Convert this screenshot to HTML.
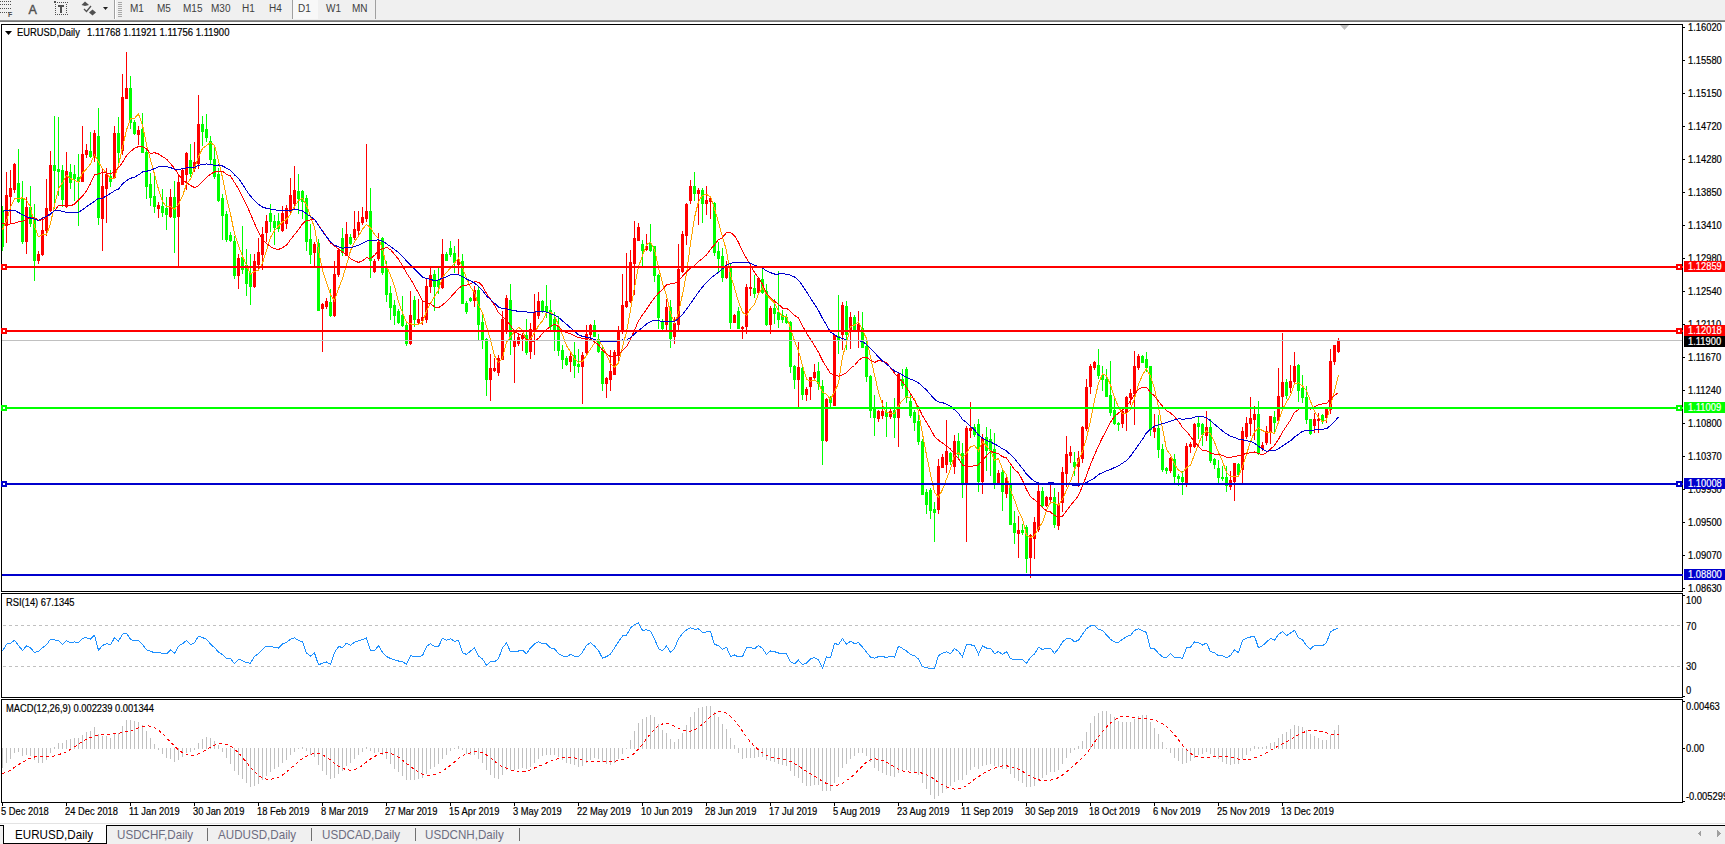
<!DOCTYPE html>
<html><head><meta charset="utf-8"><style>
html,body{margin:0;padding:0;width:1725px;height:844px;overflow:hidden;background:#fff;font-family:"Liberation Sans",sans-serif;}
#tb{position:absolute;left:0;top:0;width:1725px;height:20px;background:#f0f0f0;}
#tbl{position:absolute;left:0;top:20px;width:1725px;height:2px;background:linear-gradient(#a0a0a0,#686868);}
.tf{position:absolute;top:3px;font-size:10px;color:#404040;}
#tabs{position:absolute;left:0;top:823px;width:1725px;height:21px;background:#f0f0f0;}
svg{position:absolute;left:0;top:0;}
</style></head><body>
<div id="tb"></div><div id="tbl"></div><div style="position:absolute;left:292px;top:0;width:25px;height:19px;background:#f8f8f8;border-left:1px solid #a0a0a0"></div><div class="tf" style="left:130px">M1</div><div class="tf" style="left:157px">M5</div><div class="tf" style="left:183px">M15</div><div class="tf" style="left:211px">M30</div><div class="tf" style="left:242px">H1</div><div class="tf" style="left:269px">H4</div><div class="tf" style="left:298px">D1</div><div class="tf" style="left:326px">W1</div><div class="tf" style="left:352px">MN</div><div style="position:absolute;left:114px;top:0;width:1px;height:19px;background:#a0a0a0"></div><div style="position:absolute;left:375px;top:0;width:1px;height:19px;background:#a0a0a0"></div><svg style="position:absolute;left:0;top:0" width="400" height="20" shape-rendering="crispEdges"><rect x="0" y="1" width="1" height="1" fill="#505050"/><rect x="2" y="1" width="1" height="1" fill="#505050"/><rect x="4" y="1" width="1" height="1" fill="#505050"/><rect x="6" y="1" width="1" height="1" fill="#505050"/><rect x="8" y="1" width="1" height="1" fill="#505050"/><rect x="10" y="1" width="1" height="1" fill="#505050"/><rect x="0" y="4" width="1" height="1" fill="#505050"/><rect x="2" y="4" width="1" height="1" fill="#505050"/><rect x="4" y="4" width="1" height="1" fill="#505050"/><rect x="6" y="4" width="1" height="1" fill="#505050"/><rect x="8" y="4" width="1" height="1" fill="#505050"/><rect x="10" y="4" width="1" height="1" fill="#505050"/><rect x="0" y="8" width="1" height="1" fill="#505050"/><rect x="2" y="8" width="1" height="1" fill="#505050"/><rect x="4" y="8" width="1" height="1" fill="#505050"/><rect x="6" y="8" width="1" height="1" fill="#505050"/><rect x="8" y="8" width="1" height="1" fill="#505050"/><rect x="10" y="8" width="1" height="1" fill="#505050"/><rect x="0" y="12" width="1" height="1" fill="#505050"/><rect x="2" y="12" width="1" height="1" fill="#505050"/><rect x="4" y="12" width="1" height="1" fill="#505050"/><rect x="6" y="12" width="1" height="1" fill="#505050"/><rect x="8" y="12" width="1" height="1" fill="#505050"/><rect x="10" y="12" width="1" height="1" fill="#505050"/></svg><svg style="position:absolute;left:0;top:0" width="400" height="20"><text x="8" y="17" font-size="7" font-weight="bold" fill="#505050">F</text><text x="28.5" y="13.5" font-size="12.5" fill="#505050" stroke="#505050" stroke-width="0.4">A</text><g shape-rendering="crispEdges"><rect x="55" y="2" width="1" height="1" fill="#505050"/><rect x="55" y="14" width="1" height="1" fill="#505050"/><rect x="57" y="2" width="1" height="1" fill="#505050"/><rect x="57" y="14" width="1" height="1" fill="#505050"/><rect x="59" y="2" width="1" height="1" fill="#505050"/><rect x="59" y="14" width="1" height="1" fill="#505050"/><rect x="61" y="2" width="1" height="1" fill="#505050"/><rect x="61" y="14" width="1" height="1" fill="#505050"/><rect x="63" y="2" width="1" height="1" fill="#505050"/><rect x="63" y="14" width="1" height="1" fill="#505050"/><rect x="65" y="2" width="1" height="1" fill="#505050"/><rect x="65" y="14" width="1" height="1" fill="#505050"/><rect x="67" y="2" width="1" height="1" fill="#505050"/><rect x="67" y="14" width="1" height="1" fill="#505050"/><rect x="55" y="4" width="1" height="1" fill="#505050"/><rect x="66" y="4" width="1" height="1" fill="#505050"/><rect x="55" y="6" width="1" height="1" fill="#505050"/><rect x="66" y="6" width="1" height="1" fill="#505050"/><rect x="55" y="8" width="1" height="1" fill="#505050"/><rect x="66" y="8" width="1" height="1" fill="#505050"/><rect x="55" y="10" width="1" height="1" fill="#505050"/><rect x="66" y="10" width="1" height="1" fill="#505050"/><rect x="55" y="12" width="1" height="1" fill="#505050"/><rect x="66" y="12" width="1" height="1" fill="#505050"/><rect x="54" y="1" width="2" height="2" fill="#505050"/></g><path d="M58,5 H64 V7 H62 V13 H60 V7 H58 Z" fill="#505050"/><path d="M85,1.5 L89,5 L85,6 L81.5,5 Z" fill="#505050"/><path d="M84,9 L86.5,11.5 L91,6" fill="none" stroke="#505050" stroke-width="1.3"/><path d="M92.5,9.5 L96,12.5 L92.5,15.5 L89,12.5 Z" fill="#505050"/><path d="M103,7 L108,7 L105.5,10 Z" fill="#202020"/></svg><svg style="position:absolute;left:0;top:0" width="400" height="20" shape-rendering="crispEdges"><rect x="118" y="2" width="4" height="1" fill="#a8a8a8"/><rect x="118" y="4" width="4" height="1" fill="#a8a8a8"/><rect x="118" y="6" width="4" height="1" fill="#a8a8a8"/><rect x="118" y="8" width="4" height="1" fill="#a8a8a8"/><rect x="118" y="10" width="4" height="1" fill="#a8a8a8"/><rect x="118" y="12" width="4" height="1" fill="#a8a8a8"/><rect x="118" y="14" width="4" height="1" fill="#a8a8a8"/><rect x="118" y="16" width="4" height="1" fill="#a8a8a8"/><rect x="115" y="0" width="1" height="19" fill="#ffffff"/></svg><div id="tabs"></div><rect x="0" y="22" width="1725" height="801" fill="#fff"/><svg x="0" y="0" width="1725" height="844"><defs><clipPath id="cm"><rect x="2" y="25" width="1680" height="566"/></clipPath><clipPath id="cr"><rect x="2" y="594" width="1680" height="103"/></clipPath><clipPath id="cd"><rect x="2" y="700" width="1680" height="102"/></clipPath></defs><g clip-path="url(#cm)"><g shape-rendering="crispEdges"><rect x="2" y="206" width="1" height="45" fill="#00ff00"/><rect x="1" y="210" width="3" height="37" fill="#00ff00"/><rect x="6" y="172" width="1" height="71" fill="#ff0000"/><rect x="5" y="195" width="3" height="31" fill="#ff0000"/><rect x="10" y="170" width="1" height="53" fill="#ff0000"/><rect x="9" y="188" width="3" height="9" fill="#ff0000"/><rect x="14" y="163" width="1" height="30" fill="#ff0000"/><rect x="13" y="164" width="3" height="26" fill="#ff0000"/><rect x="18" y="149" width="1" height="54" fill="#00ff00"/><rect x="17" y="183" width="3" height="19" fill="#00ff00"/><rect x="22" y="181" width="1" height="63" fill="#00ff00"/><rect x="21" y="199" width="3" height="43" fill="#00ff00"/><rect x="26" y="197" width="1" height="57" fill="#ff0000"/><rect x="25" y="207" width="3" height="35" fill="#ff0000"/><rect x="30" y="186" width="1" height="41" fill="#00ff00"/><rect x="29" y="207" width="3" height="17" fill="#00ff00"/><rect x="34" y="204" width="1" height="77" fill="#00ff00"/><rect x="33" y="220" width="3" height="41" fill="#00ff00"/><rect x="38" y="251" width="1" height="13" fill="#ff0000"/><rect x="37" y="254" width="3" height="7" fill="#ff0000"/><rect x="42" y="217" width="1" height="39" fill="#ff0000"/><rect x="41" y="230" width="3" height="25" fill="#ff0000"/><rect x="46" y="179" width="1" height="57" fill="#ff0000"/><rect x="45" y="208" width="3" height="23" fill="#ff0000"/><rect x="50" y="151" width="1" height="61" fill="#ff0000"/><rect x="49" y="165" width="3" height="46" fill="#ff0000"/><rect x="54" y="116" width="1" height="93" fill="#00ff00"/><rect x="53" y="165" width="3" height="6" fill="#00ff00"/><rect x="58" y="117" width="1" height="79" fill="#00ff00"/><rect x="57" y="169" width="3" height="3" fill="#00ff00"/><rect x="62" y="165" width="1" height="42" fill="#00ff00"/><rect x="61" y="170" width="3" height="30" fill="#00ff00"/><rect x="66" y="152" width="1" height="56" fill="#ff0000"/><rect x="65" y="171" width="3" height="36" fill="#ff0000"/><rect x="70" y="164" width="1" height="25" fill="#00ff00"/><rect x="69" y="172" width="3" height="11" fill="#00ff00"/><rect x="74" y="165" width="1" height="36" fill="#00ff00"/><rect x="73" y="174" width="3" height="5" fill="#00ff00"/><rect x="78" y="154" width="1" height="72" fill="#00ff00"/><rect x="77" y="177" width="3" height="5" fill="#00ff00"/><rect x="82" y="126" width="1" height="56" fill="#ff0000"/><rect x="81" y="154" width="3" height="28" fill="#ff0000"/><rect x="86" y="144" width="1" height="14" fill="#ff0000"/><rect x="85" y="150" width="3" height="5" fill="#ff0000"/><rect x="90" y="132" width="1" height="26" fill="#00ff00"/><rect x="89" y="151" width="3" height="6" fill="#00ff00"/><rect x="94" y="130" width="1" height="32" fill="#ff0000"/><rect x="93" y="133" width="3" height="25" fill="#ff0000"/><rect x="98" y="108" width="1" height="117" fill="#00ff00"/><rect x="97" y="136" width="3" height="82" fill="#00ff00"/><rect x="102" y="168" width="1" height="83" fill="#ff0000"/><rect x="101" y="186" width="3" height="33" fill="#ff0000"/><rect x="106" y="168" width="1" height="55" fill="#ff0000"/><rect x="105" y="174" width="3" height="15" fill="#ff0000"/><rect x="110" y="170" width="1" height="17" fill="#00ff00"/><rect x="109" y="176" width="3" height="6" fill="#00ff00"/><rect x="114" y="126" width="1" height="53" fill="#ff0000"/><rect x="113" y="133" width="3" height="45" fill="#ff0000"/><rect x="118" y="117" width="1" height="49" fill="#00ff00"/><rect x="117" y="133" width="3" height="20" fill="#00ff00"/><rect x="122" y="74" width="1" height="81" fill="#ff0000"/><rect x="121" y="97" width="3" height="54" fill="#ff0000"/><rect x="126" y="52" width="1" height="47" fill="#ff0000"/><rect x="125" y="88" width="3" height="11" fill="#ff0000"/><rect x="130" y="76" width="1" height="53" fill="#00ff00"/><rect x="129" y="88" width="3" height="35" fill="#00ff00"/><rect x="134" y="120" width="1" height="15" fill="#00ff00"/><rect x="133" y="122" width="3" height="12" fill="#00ff00"/><rect x="138" y="126" width="1" height="19" fill="#ff0000"/><rect x="137" y="130" width="3" height="5" fill="#ff0000"/><rect x="142" y="113" width="1" height="40" fill="#00ff00"/><rect x="141" y="129" width="3" height="24" fill="#00ff00"/><rect x="146" y="149" width="1" height="50" fill="#00ff00"/><rect x="145" y="152" width="3" height="35" fill="#00ff00"/><rect x="150" y="173" width="1" height="33" fill="#00ff00"/><rect x="149" y="184" width="3" height="14" fill="#00ff00"/><rect x="154" y="176" width="1" height="37" fill="#00ff00"/><rect x="153" y="196" width="3" height="11" fill="#00ff00"/><rect x="158" y="202" width="1" height="16" fill="#ff0000"/><rect x="157" y="205" width="3" height="4" fill="#ff0000"/><rect x="162" y="189" width="1" height="28" fill="#00ff00"/><rect x="161" y="206" width="3" height="7" fill="#00ff00"/><rect x="166" y="197" width="1" height="33" fill="#00ff00"/><rect x="165" y="208" width="3" height="7" fill="#00ff00"/><rect x="170" y="189" width="1" height="29" fill="#ff0000"/><rect x="169" y="197" width="3" height="20" fill="#ff0000"/><rect x="174" y="181" width="1" height="72" fill="#00ff00"/><rect x="173" y="197" width="3" height="21" fill="#00ff00"/><rect x="178" y="174" width="1" height="93" fill="#ff0000"/><rect x="177" y="182" width="3" height="35" fill="#ff0000"/><rect x="182" y="169" width="1" height="16" fill="#ff0000"/><rect x="181" y="170" width="3" height="15" fill="#ff0000"/><rect x="186" y="152" width="1" height="38" fill="#ff0000"/><rect x="185" y="153" width="3" height="22" fill="#ff0000"/><rect x="190" y="144" width="1" height="33" fill="#00ff00"/><rect x="189" y="160" width="3" height="14" fill="#00ff00"/><rect x="194" y="142" width="1" height="30" fill="#ff0000"/><rect x="193" y="162" width="3" height="7" fill="#ff0000"/><rect x="198" y="95" width="1" height="74" fill="#ff0000"/><rect x="197" y="124" width="3" height="40" fill="#ff0000"/><rect x="202" y="116" width="1" height="30" fill="#00ff00"/><rect x="201" y="124" width="3" height="8" fill="#00ff00"/><rect x="206" y="114" width="1" height="28" fill="#00ff00"/><rect x="205" y="129" width="3" height="9" fill="#00ff00"/><rect x="210" y="136" width="1" height="28" fill="#00ff00"/><rect x="209" y="141" width="3" height="19" fill="#00ff00"/><rect x="214" y="148" width="1" height="31" fill="#00ff00"/><rect x="213" y="159" width="3" height="18" fill="#00ff00"/><rect x="218" y="168" width="1" height="34" fill="#00ff00"/><rect x="217" y="174" width="3" height="27" fill="#00ff00"/><rect x="222" y="194" width="1" height="46" fill="#00ff00"/><rect x="221" y="198" width="3" height="18" fill="#00ff00"/><rect x="226" y="211" width="1" height="31" fill="#00ff00"/><rect x="225" y="214" width="3" height="26" fill="#00ff00"/><rect x="230" y="232" width="1" height="10" fill="#00ff00"/><rect x="229" y="235" width="3" height="6" fill="#00ff00"/><rect x="234" y="236" width="1" height="43" fill="#00ff00"/><rect x="233" y="241" width="3" height="35" fill="#00ff00"/><rect x="238" y="254" width="1" height="35" fill="#ff0000"/><rect x="237" y="258" width="3" height="18" fill="#ff0000"/><rect x="242" y="226" width="1" height="48" fill="#00ff00"/><rect x="241" y="257" width="3" height="13" fill="#00ff00"/><rect x="246" y="249" width="1" height="47" fill="#00ff00"/><rect x="245" y="265" width="3" height="19" fill="#00ff00"/><rect x="250" y="254" width="1" height="51" fill="#00ff00"/><rect x="249" y="273" width="3" height="14" fill="#00ff00"/><rect x="254" y="254" width="1" height="34" fill="#ff0000"/><rect x="253" y="261" width="3" height="26" fill="#ff0000"/><rect x="258" y="238" width="1" height="33" fill="#ff0000"/><rect x="257" y="252" width="3" height="13" fill="#ff0000"/><rect x="262" y="227" width="1" height="43" fill="#ff0000"/><rect x="261" y="234" width="3" height="21" fill="#ff0000"/><rect x="266" y="215" width="1" height="27" fill="#ff0000"/><rect x="265" y="221" width="3" height="12" fill="#ff0000"/><rect x="270" y="204" width="1" height="28" fill="#00ff00"/><rect x="269" y="213" width="3" height="9" fill="#00ff00"/><rect x="274" y="215" width="1" height="30" fill="#00ff00"/><rect x="273" y="221" width="3" height="7" fill="#00ff00"/><rect x="278" y="213" width="1" height="19" fill="#00ff00"/><rect x="277" y="221" width="3" height="8" fill="#00ff00"/><rect x="282" y="206" width="1" height="26" fill="#ff0000"/><rect x="281" y="213" width="3" height="18" fill="#ff0000"/><rect x="286" y="205" width="1" height="24" fill="#ff0000"/><rect x="285" y="208" width="3" height="16" fill="#ff0000"/><rect x="290" y="178" width="1" height="36" fill="#ff0000"/><rect x="289" y="195" width="3" height="17" fill="#ff0000"/><rect x="294" y="166" width="1" height="44" fill="#ff0000"/><rect x="293" y="190" width="3" height="14" fill="#ff0000"/><rect x="298" y="174" width="1" height="40" fill="#00ff00"/><rect x="297" y="191" width="3" height="8" fill="#00ff00"/><rect x="302" y="190" width="1" height="29" fill="#00ff00"/><rect x="301" y="191" width="3" height="11" fill="#00ff00"/><rect x="306" y="195" width="1" height="56" fill="#00ff00"/><rect x="305" y="198" width="3" height="44" fill="#00ff00"/><rect x="310" y="224" width="1" height="40" fill="#00ff00"/><rect x="309" y="239" width="3" height="16" fill="#00ff00"/><rect x="314" y="242" width="1" height="24" fill="#ff0000"/><rect x="313" y="244" width="3" height="9" fill="#ff0000"/><rect x="318" y="239" width="1" height="72" fill="#00ff00"/><rect x="317" y="243" width="3" height="68" fill="#00ff00"/><rect x="322" y="303" width="1" height="49" fill="#ff0000"/><rect x="321" y="304" width="3" height="5" fill="#ff0000"/><rect x="326" y="298" width="1" height="11" fill="#ff0000"/><rect x="325" y="301" width="3" height="6" fill="#ff0000"/><rect x="330" y="289" width="1" height="28" fill="#00ff00"/><rect x="329" y="302" width="3" height="14" fill="#00ff00"/><rect x="334" y="261" width="1" height="56" fill="#ff0000"/><rect x="333" y="274" width="3" height="42" fill="#ff0000"/><rect x="338" y="248" width="1" height="29" fill="#ff0000"/><rect x="337" y="250" width="3" height="25" fill="#ff0000"/><rect x="342" y="228" width="1" height="28" fill="#00ff00"/><rect x="341" y="238" width="3" height="15" fill="#00ff00"/><rect x="346" y="222" width="1" height="34" fill="#ff0000"/><rect x="345" y="234" width="3" height="22" fill="#ff0000"/><rect x="350" y="234" width="1" height="11" fill="#00ff00"/><rect x="349" y="237" width="3" height="7" fill="#00ff00"/><rect x="354" y="211" width="1" height="29" fill="#ff0000"/><rect x="353" y="229" width="3" height="9" fill="#ff0000"/><rect x="358" y="211" width="1" height="24" fill="#ff0000"/><rect x="357" y="222" width="3" height="9" fill="#ff0000"/><rect x="362" y="207" width="1" height="18" fill="#ff0000"/><rect x="361" y="217" width="3" height="6" fill="#ff0000"/><rect x="366" y="144" width="1" height="78" fill="#ff0000"/><rect x="365" y="211" width="3" height="8" fill="#ff0000"/><rect x="370" y="188" width="1" height="90" fill="#00ff00"/><rect x="369" y="211" width="3" height="50" fill="#00ff00"/><rect x="374" y="259" width="1" height="14" fill="#ff0000"/><rect x="373" y="261" width="3" height="11" fill="#ff0000"/><rect x="378" y="233" width="1" height="28" fill="#ff0000"/><rect x="377" y="242" width="3" height="17" fill="#ff0000"/><rect x="382" y="237" width="1" height="38" fill="#00ff00"/><rect x="381" y="238" width="3" height="35" fill="#00ff00"/><rect x="386" y="261" width="1" height="41" fill="#00ff00"/><rect x="385" y="268" width="3" height="27" fill="#00ff00"/><rect x="390" y="286" width="1" height="34" fill="#00ff00"/><rect x="389" y="293" width="3" height="15" fill="#00ff00"/><rect x="394" y="300" width="1" height="25" fill="#00ff00"/><rect x="393" y="305" width="3" height="11" fill="#00ff00"/><rect x="398" y="309" width="1" height="15" fill="#00ff00"/><rect x="397" y="311" width="3" height="12" fill="#00ff00"/><rect x="402" y="296" width="1" height="31" fill="#00ff00"/><rect x="401" y="315" width="3" height="11" fill="#00ff00"/><rect x="406" y="322" width="1" height="24" fill="#00ff00"/><rect x="405" y="325" width="3" height="19" fill="#00ff00"/><rect x="410" y="291" width="1" height="54" fill="#ff0000"/><rect x="409" y="315" width="3" height="29" fill="#ff0000"/><rect x="414" y="296" width="1" height="31" fill="#00ff00"/><rect x="413" y="300" width="3" height="20" fill="#00ff00"/><rect x="418" y="299" width="1" height="26" fill="#ff0000"/><rect x="417" y="319" width="3" height="4" fill="#ff0000"/><rect x="422" y="300" width="1" height="25" fill="#ff0000"/><rect x="421" y="317" width="3" height="4" fill="#ff0000"/><rect x="426" y="278" width="1" height="45" fill="#ff0000"/><rect x="425" y="286" width="3" height="34" fill="#ff0000"/><rect x="430" y="268" width="1" height="25" fill="#ff0000"/><rect x="429" y="275" width="3" height="12" fill="#ff0000"/><rect x="434" y="270" width="1" height="41" fill="#00ff00"/><rect x="433" y="274" width="3" height="13" fill="#00ff00"/><rect x="438" y="268" width="1" height="26" fill="#00ff00"/><rect x="437" y="280" width="3" height="7" fill="#00ff00"/><rect x="442" y="239" width="1" height="50" fill="#ff0000"/><rect x="441" y="254" width="3" height="34" fill="#ff0000"/><rect x="446" y="252" width="1" height="9" fill="#00ff00"/><rect x="445" y="254" width="3" height="7" fill="#00ff00"/><rect x="450" y="241" width="1" height="16" fill="#00ff00"/><rect x="449" y="248" width="3" height="7" fill="#00ff00"/><rect x="454" y="246" width="1" height="27" fill="#00ff00"/><rect x="453" y="253" width="3" height="10" fill="#00ff00"/><rect x="458" y="239" width="1" height="36" fill="#ff0000"/><rect x="457" y="260" width="3" height="5" fill="#ff0000"/><rect x="462" y="254" width="1" height="50" fill="#00ff00"/><rect x="461" y="261" width="3" height="43" fill="#00ff00"/><rect x="466" y="301" width="1" height="13" fill="#00ff00"/><rect x="465" y="303" width="3" height="9" fill="#00ff00"/><rect x="470" y="297" width="1" height="5" fill="#00ff00"/><rect x="469" y="298" width="3" height="3" fill="#00ff00"/><rect x="474" y="286" width="1" height="21" fill="#ff0000"/><rect x="473" y="290" width="3" height="11" fill="#ff0000"/><rect x="478" y="287" width="1" height="53" fill="#00ff00"/><rect x="477" y="290" width="3" height="35" fill="#00ff00"/><rect x="482" y="314" width="1" height="35" fill="#00ff00"/><rect x="481" y="322" width="3" height="18" fill="#00ff00"/><rect x="486" y="338" width="1" height="58" fill="#00ff00"/><rect x="485" y="339" width="3" height="41" fill="#00ff00"/><rect x="490" y="354" width="1" height="47" fill="#ff0000"/><rect x="489" y="368" width="3" height="12" fill="#ff0000"/><rect x="494" y="358" width="1" height="14" fill="#ff0000"/><rect x="493" y="368" width="3" height="3" fill="#ff0000"/><rect x="498" y="355" width="1" height="21" fill="#ff0000"/><rect x="497" y="358" width="3" height="15" fill="#ff0000"/><rect x="502" y="311" width="1" height="49" fill="#ff0000"/><rect x="501" y="319" width="3" height="41" fill="#ff0000"/><rect x="506" y="295" width="1" height="39" fill="#ff0000"/><rect x="505" y="298" width="3" height="34" fill="#ff0000"/><rect x="510" y="284" width="1" height="71" fill="#00ff00"/><rect x="509" y="300" width="3" height="41" fill="#00ff00"/><rect x="514" y="330" width="1" height="53" fill="#ff0000"/><rect x="513" y="341" width="3" height="6" fill="#ff0000"/><rect x="518" y="333" width="1" height="13" fill="#ff0000"/><rect x="517" y="337" width="3" height="7" fill="#ff0000"/><rect x="522" y="333" width="1" height="18" fill="#ff0000"/><rect x="521" y="335" width="3" height="4" fill="#ff0000"/><rect x="526" y="319" width="1" height="36" fill="#00ff00"/><rect x="525" y="335" width="3" height="18" fill="#00ff00"/><rect x="530" y="323" width="1" height="36" fill="#ff0000"/><rect x="529" y="329" width="3" height="23" fill="#ff0000"/><rect x="534" y="294" width="1" height="61" fill="#ff0000"/><rect x="533" y="312" width="3" height="20" fill="#ff0000"/><rect x="538" y="292" width="1" height="27" fill="#ff0000"/><rect x="537" y="301" width="3" height="15" fill="#ff0000"/><rect x="542" y="300" width="1" height="13" fill="#00ff00"/><rect x="541" y="301" width="3" height="10" fill="#00ff00"/><rect x="546" y="285" width="1" height="33" fill="#00ff00"/><rect x="545" y="306" width="3" height="6" fill="#00ff00"/><rect x="550" y="300" width="1" height="30" fill="#00ff00"/><rect x="549" y="310" width="3" height="17" fill="#00ff00"/><rect x="554" y="312" width="1" height="39" fill="#00ff00"/><rect x="553" y="319" width="3" height="11" fill="#00ff00"/><rect x="558" y="316" width="1" height="40" fill="#00ff00"/><rect x="557" y="326" width="3" height="25" fill="#00ff00"/><rect x="562" y="345" width="1" height="24" fill="#00ff00"/><rect x="561" y="350" width="3" height="10" fill="#00ff00"/><rect x="566" y="356" width="1" height="10" fill="#00ff00"/><rect x="565" y="358" width="3" height="7" fill="#00ff00"/><rect x="570" y="352" width="1" height="20" fill="#ff0000"/><rect x="569" y="356" width="3" height="6" fill="#ff0000"/><rect x="574" y="342" width="1" height="36" fill="#00ff00"/><rect x="573" y="355" width="3" height="11" fill="#00ff00"/><rect x="578" y="349" width="1" height="24" fill="#00ff00"/><rect x="577" y="364" width="3" height="3" fill="#00ff00"/><rect x="582" y="352" width="1" height="52" fill="#ff0000"/><rect x="581" y="355" width="3" height="12" fill="#ff0000"/><rect x="586" y="325" width="1" height="31" fill="#ff0000"/><rect x="585" y="334" width="3" height="19" fill="#ff0000"/><rect x="590" y="324" width="1" height="13" fill="#ff0000"/><rect x="589" y="325" width="3" height="10" fill="#ff0000"/><rect x="594" y="320" width="1" height="17" fill="#00ff00"/><rect x="593" y="325" width="3" height="12" fill="#00ff00"/><rect x="598" y="334" width="1" height="19" fill="#00ff00"/><rect x="597" y="339" width="3" height="13" fill="#00ff00"/><rect x="602" y="347" width="1" height="44" fill="#00ff00"/><rect x="601" y="351" width="3" height="33" fill="#00ff00"/><rect x="606" y="377" width="1" height="21" fill="#ff0000"/><rect x="605" y="378" width="3" height="6" fill="#ff0000"/><rect x="610" y="350" width="1" height="41" fill="#ff0000"/><rect x="609" y="371" width="3" height="9" fill="#ff0000"/><rect x="614" y="350" width="1" height="25" fill="#ff0000"/><rect x="613" y="352" width="3" height="23" fill="#ff0000"/><rect x="618" y="326" width="1" height="37" fill="#ff0000"/><rect x="617" y="330" width="3" height="26" fill="#ff0000"/><rect x="622" y="274" width="1" height="60" fill="#ff0000"/><rect x="621" y="305" width="3" height="27" fill="#ff0000"/><rect x="626" y="253" width="1" height="55" fill="#ff0000"/><rect x="625" y="301" width="3" height="6" fill="#ff0000"/><rect x="630" y="250" width="1" height="53" fill="#ff0000"/><rect x="629" y="262" width="3" height="40" fill="#ff0000"/><rect x="634" y="221" width="1" height="74" fill="#ff0000"/><rect x="633" y="238" width="3" height="26" fill="#ff0000"/><rect x="638" y="223" width="1" height="18" fill="#ff0000"/><rect x="637" y="227" width="3" height="14" fill="#ff0000"/><rect x="642" y="240" width="1" height="26" fill="#00ff00"/><rect x="641" y="244" width="3" height="7" fill="#00ff00"/><rect x="646" y="234" width="1" height="17" fill="#ff0000"/><rect x="645" y="246" width="3" height="4" fill="#ff0000"/><rect x="650" y="224" width="1" height="28" fill="#00ff00"/><rect x="649" y="243" width="3" height="8" fill="#00ff00"/><rect x="654" y="246" width="1" height="36" fill="#00ff00"/><rect x="653" y="246" width="3" height="30" fill="#00ff00"/><rect x="658" y="274" width="1" height="55" fill="#00ff00"/><rect x="657" y="275" width="3" height="43" fill="#00ff00"/><rect x="662" y="319" width="1" height="12" fill="#00ff00"/><rect x="661" y="321" width="3" height="8" fill="#00ff00"/><rect x="666" y="299" width="1" height="32" fill="#ff0000"/><rect x="665" y="307" width="3" height="18" fill="#ff0000"/><rect x="670" y="300" width="1" height="48" fill="#00ff00"/><rect x="669" y="307" width="3" height="32" fill="#00ff00"/><rect x="674" y="317" width="1" height="27" fill="#ff0000"/><rect x="673" y="323" width="3" height="14" fill="#ff0000"/><rect x="678" y="244" width="1" height="87" fill="#ff0000"/><rect x="677" y="269" width="3" height="56" fill="#ff0000"/><rect x="682" y="231" width="1" height="42" fill="#ff0000"/><rect x="681" y="234" width="3" height="38" fill="#ff0000"/><rect x="686" y="203" width="1" height="42" fill="#ff0000"/><rect x="685" y="204" width="3" height="32" fill="#ff0000"/><rect x="690" y="180" width="1" height="24" fill="#ff0000"/><rect x="689" y="186" width="3" height="15" fill="#ff0000"/><rect x="694" y="172" width="1" height="29" fill="#00ff00"/><rect x="693" y="186" width="3" height="8" fill="#00ff00"/><rect x="698" y="188" width="1" height="37" fill="#ff0000"/><rect x="697" y="190" width="3" height="4" fill="#ff0000"/><rect x="702" y="188" width="1" height="35" fill="#00ff00"/><rect x="701" y="190" width="3" height="14" fill="#00ff00"/><rect x="706" y="186" width="1" height="29" fill="#ff0000"/><rect x="705" y="200" width="3" height="4" fill="#ff0000"/><rect x="710" y="198" width="1" height="21" fill="#ff0000"/><rect x="709" y="198" width="3" height="4" fill="#ff0000"/><rect x="714" y="202" width="1" height="54" fill="#00ff00"/><rect x="713" y="203" width="3" height="50" fill="#00ff00"/><rect x="718" y="242" width="1" height="31" fill="#00ff00"/><rect x="717" y="251" width="3" height="8" fill="#00ff00"/><rect x="722" y="248" width="1" height="34" fill="#00ff00"/><rect x="721" y="256" width="3" height="22" fill="#00ff00"/><rect x="726" y="261" width="1" height="18" fill="#ff0000"/><rect x="725" y="267" width="3" height="11" fill="#ff0000"/><rect x="730" y="263" width="1" height="66" fill="#00ff00"/><rect x="729" y="267" width="3" height="56" fill="#00ff00"/><rect x="734" y="314" width="1" height="9" fill="#ff0000"/><rect x="733" y="315" width="3" height="8" fill="#ff0000"/><rect x="738" y="307" width="1" height="22" fill="#00ff00"/><rect x="737" y="311" width="3" height="18" fill="#00ff00"/><rect x="742" y="326" width="1" height="13" fill="#ff0000"/><rect x="741" y="327" width="3" height="2" fill="#ff0000"/><rect x="746" y="284" width="1" height="50" fill="#ff0000"/><rect x="745" y="287" width="3" height="40" fill="#ff0000"/><rect x="750" y="264" width="1" height="32" fill="#ff0000"/><rect x="749" y="287" width="3" height="2" fill="#ff0000"/><rect x="754" y="275" width="1" height="23" fill="#00ff00"/><rect x="753" y="288" width="3" height="6" fill="#00ff00"/><rect x="758" y="277" width="1" height="17" fill="#ff0000"/><rect x="757" y="278" width="3" height="15" fill="#ff0000"/><rect x="762" y="268" width="1" height="26" fill="#00ff00"/><rect x="761" y="279" width="3" height="14" fill="#00ff00"/><rect x="766" y="284" width="1" height="42" fill="#00ff00"/><rect x="765" y="291" width="3" height="34" fill="#00ff00"/><rect x="770" y="306" width="1" height="28" fill="#ff0000"/><rect x="769" y="308" width="3" height="17" fill="#ff0000"/><rect x="774" y="299" width="1" height="25" fill="#00ff00"/><rect x="773" y="308" width="3" height="6" fill="#00ff00"/><rect x="778" y="271" width="1" height="57" fill="#00ff00"/><rect x="777" y="312" width="3" height="8" fill="#00ff00"/><rect x="782" y="310" width="1" height="13" fill="#00ff00"/><rect x="781" y="315" width="3" height="5" fill="#00ff00"/><rect x="786" y="314" width="1" height="10" fill="#00ff00"/><rect x="785" y="317" width="3" height="6" fill="#00ff00"/><rect x="790" y="321" width="1" height="52" fill="#00ff00"/><rect x="789" y="322" width="3" height="45" fill="#00ff00"/><rect x="794" y="365" width="1" height="24" fill="#00ff00"/><rect x="793" y="366" width="3" height="14" fill="#00ff00"/><rect x="798" y="342" width="1" height="66" fill="#ff0000"/><rect x="797" y="367" width="3" height="13" fill="#ff0000"/><rect x="802" y="367" width="1" height="33" fill="#00ff00"/><rect x="801" y="368" width="3" height="27" fill="#00ff00"/><rect x="806" y="387" width="1" height="14" fill="#ff0000"/><rect x="805" y="389" width="3" height="6" fill="#ff0000"/><rect x="810" y="377" width="1" height="23" fill="#ff0000"/><rect x="809" y="377" width="3" height="10" fill="#ff0000"/><rect x="814" y="364" width="1" height="16" fill="#ff0000"/><rect x="813" y="372" width="3" height="6" fill="#ff0000"/><rect x="818" y="362" width="1" height="28" fill="#00ff00"/><rect x="817" y="371" width="3" height="13" fill="#00ff00"/><rect x="822" y="380" width="1" height="85" fill="#00ff00"/><rect x="821" y="386" width="3" height="55" fill="#00ff00"/><rect x="826" y="398" width="1" height="44" fill="#ff0000"/><rect x="825" y="399" width="3" height="42" fill="#ff0000"/><rect x="830" y="396" width="1" height="12" fill="#00ff00"/><rect x="829" y="397" width="3" height="6" fill="#00ff00"/><rect x="834" y="334" width="1" height="72" fill="#ff0000"/><rect x="833" y="335" width="3" height="71" fill="#ff0000"/><rect x="838" y="295" width="1" height="59" fill="#00ff00"/><rect x="837" y="336" width="3" height="5" fill="#00ff00"/><rect x="842" y="302" width="1" height="48" fill="#ff0000"/><rect x="841" y="305" width="3" height="30" fill="#ff0000"/><rect x="846" y="301" width="1" height="49" fill="#00ff00"/><rect x="845" y="306" width="3" height="29" fill="#00ff00"/><rect x="850" y="312" width="1" height="37" fill="#ff0000"/><rect x="849" y="317" width="3" height="14" fill="#ff0000"/><rect x="854" y="315" width="1" height="16" fill="#00ff00"/><rect x="853" y="317" width="3" height="13" fill="#00ff00"/><rect x="858" y="311" width="1" height="37" fill="#ff0000"/><rect x="857" y="324" width="3" height="8" fill="#ff0000"/><rect x="862" y="312" width="1" height="36" fill="#00ff00"/><rect x="861" y="328" width="3" height="20" fill="#00ff00"/><rect x="866" y="340" width="1" height="42" fill="#00ff00"/><rect x="865" y="346" width="3" height="31" fill="#00ff00"/><rect x="870" y="375" width="1" height="43" fill="#00ff00"/><rect x="869" y="376" width="3" height="35" fill="#00ff00"/><rect x="874" y="395" width="1" height="41" fill="#00ff00"/><rect x="873" y="407" width="3" height="11" fill="#00ff00"/><rect x="878" y="410" width="1" height="12" fill="#ff0000"/><rect x="877" y="411" width="3" height="8" fill="#ff0000"/><rect x="882" y="400" width="1" height="19" fill="#ff0000"/><rect x="881" y="411" width="3" height="5" fill="#ff0000"/><rect x="886" y="402" width="1" height="35" fill="#00ff00"/><rect x="885" y="412" width="3" height="5" fill="#00ff00"/><rect x="890" y="407" width="1" height="12" fill="#ff0000"/><rect x="889" y="411" width="3" height="6" fill="#ff0000"/><rect x="894" y="398" width="1" height="40" fill="#00ff00"/><rect x="893" y="410" width="3" height="8" fill="#00ff00"/><rect x="898" y="372" width="1" height="75" fill="#ff0000"/><rect x="897" y="374" width="3" height="44" fill="#ff0000"/><rect x="902" y="369" width="1" height="20" fill="#00ff00"/><rect x="901" y="379" width="3" height="7" fill="#00ff00"/><rect x="906" y="367" width="1" height="36" fill="#00ff00"/><rect x="905" y="369" width="3" height="29" fill="#00ff00"/><rect x="910" y="395" width="1" height="23" fill="#00ff00"/><rect x="909" y="401" width="3" height="15" fill="#00ff00"/><rect x="914" y="410" width="1" height="21" fill="#00ff00"/><rect x="913" y="412" width="3" height="11" fill="#00ff00"/><rect x="918" y="415" width="1" height="30" fill="#00ff00"/><rect x="917" y="421" width="3" height="21" fill="#00ff00"/><rect x="922" y="439" width="1" height="56" fill="#00ff00"/><rect x="921" y="441" width="3" height="54" fill="#00ff00"/><rect x="926" y="489" width="1" height="25" fill="#00ff00"/><rect x="925" y="492" width="3" height="13" fill="#00ff00"/><rect x="930" y="488" width="1" height="31" fill="#00ff00"/><rect x="929" y="490" width="3" height="21" fill="#00ff00"/><rect x="934" y="502" width="1" height="40" fill="#00ff00"/><rect x="933" y="509" width="3" height="4" fill="#00ff00"/><rect x="938" y="459" width="1" height="55" fill="#ff0000"/><rect x="937" y="466" width="3" height="44" fill="#ff0000"/><rect x="942" y="454" width="1" height="14" fill="#ff0000"/><rect x="941" y="457" width="3" height="11" fill="#ff0000"/><rect x="946" y="420" width="1" height="53" fill="#ff0000"/><rect x="945" y="451" width="3" height="14" fill="#ff0000"/><rect x="950" y="452" width="1" height="13" fill="#00ff00"/><rect x="949" y="453" width="3" height="9" fill="#00ff00"/><rect x="954" y="435" width="1" height="39" fill="#ff0000"/><rect x="953" y="441" width="3" height="26" fill="#ff0000"/><rect x="958" y="433" width="1" height="27" fill="#00ff00"/><rect x="957" y="441" width="3" height="14" fill="#00ff00"/><rect x="962" y="443" width="1" height="55" fill="#00ff00"/><rect x="961" y="453" width="3" height="31" fill="#00ff00"/><rect x="966" y="426" width="1" height="116" fill="#ff0000"/><rect x="965" y="428" width="3" height="56" fill="#ff0000"/><rect x="970" y="402" width="1" height="36" fill="#ff0000"/><rect x="969" y="428" width="3" height="3" fill="#ff0000"/><rect x="974" y="424" width="1" height="13" fill="#00ff00"/><rect x="973" y="427" width="3" height="8" fill="#00ff00"/><rect x="978" y="419" width="1" height="73" fill="#00ff00"/><rect x="977" y="424" width="3" height="58" fill="#00ff00"/><rect x="982" y="434" width="1" height="60" fill="#ff0000"/><rect x="981" y="438" width="3" height="44" fill="#ff0000"/><rect x="986" y="427" width="1" height="44" fill="#00ff00"/><rect x="985" y="437" width="3" height="14" fill="#00ff00"/><rect x="990" y="429" width="1" height="47" fill="#00ff00"/><rect x="989" y="439" width="3" height="12" fill="#00ff00"/><rect x="994" y="433" width="1" height="56" fill="#00ff00"/><rect x="993" y="449" width="3" height="35" fill="#00ff00"/><rect x="998" y="470" width="1" height="14" fill="#ff0000"/><rect x="997" y="473" width="3" height="11" fill="#ff0000"/><rect x="1002" y="470" width="1" height="41" fill="#00ff00"/><rect x="1001" y="472" width="3" height="20" fill="#00ff00"/><rect x="1006" y="476" width="1" height="22" fill="#ff0000"/><rect x="1005" y="478" width="3" height="16" fill="#ff0000"/><rect x="1010" y="466" width="1" height="59" fill="#00ff00"/><rect x="1009" y="483" width="3" height="42" fill="#00ff00"/><rect x="1014" y="511" width="1" height="33" fill="#00ff00"/><rect x="1013" y="523" width="3" height="10" fill="#00ff00"/><rect x="1018" y="516" width="1" height="42" fill="#ff0000"/><rect x="1017" y="530" width="3" height="4" fill="#ff0000"/><rect x="1022" y="524" width="1" height="11" fill="#00ff00"/><rect x="1021" y="530" width="3" height="3" fill="#00ff00"/><rect x="1026" y="525" width="1" height="48" fill="#00ff00"/><rect x="1025" y="527" width="3" height="32" fill="#00ff00"/><rect x="1030" y="534" width="1" height="44" fill="#ff0000"/><rect x="1029" y="535" width="3" height="23" fill="#ff0000"/><rect x="1034" y="517" width="1" height="42" fill="#ff0000"/><rect x="1033" y="522" width="3" height="17" fill="#ff0000"/><rect x="1038" y="485" width="1" height="47" fill="#ff0000"/><rect x="1037" y="491" width="3" height="39" fill="#ff0000"/><rect x="1042" y="487" width="1" height="21" fill="#00ff00"/><rect x="1041" y="491" width="3" height="15" fill="#00ff00"/><rect x="1046" y="496" width="1" height="11" fill="#ff0000"/><rect x="1045" y="497" width="3" height="9" fill="#ff0000"/><rect x="1050" y="485" width="1" height="18" fill="#ff0000"/><rect x="1049" y="497" width="3" height="3" fill="#ff0000"/><rect x="1054" y="488" width="1" height="40" fill="#00ff00"/><rect x="1053" y="497" width="3" height="28" fill="#00ff00"/><rect x="1058" y="492" width="1" height="38" fill="#ff0000"/><rect x="1057" y="504" width="3" height="22" fill="#ff0000"/><rect x="1062" y="467" width="1" height="45" fill="#ff0000"/><rect x="1061" y="472" width="3" height="31" fill="#ff0000"/><rect x="1066" y="436" width="1" height="51" fill="#ff0000"/><rect x="1065" y="454" width="3" height="20" fill="#ff0000"/><rect x="1070" y="446" width="1" height="17" fill="#ff0000"/><rect x="1069" y="452" width="3" height="4" fill="#ff0000"/><rect x="1074" y="452" width="1" height="24" fill="#00ff00"/><rect x="1073" y="462" width="3" height="5" fill="#00ff00"/><rect x="1078" y="451" width="1" height="36" fill="#ff0000"/><rect x="1077" y="458" width="3" height="9" fill="#ff0000"/><rect x="1082" y="426" width="1" height="37" fill="#ff0000"/><rect x="1081" y="427" width="3" height="32" fill="#ff0000"/><rect x="1086" y="379" width="1" height="52" fill="#ff0000"/><rect x="1085" y="387" width="3" height="42" fill="#ff0000"/><rect x="1090" y="364" width="1" height="30" fill="#ff0000"/><rect x="1089" y="366" width="3" height="21" fill="#ff0000"/><rect x="1094" y="361" width="1" height="9" fill="#ff0000"/><rect x="1093" y="362" width="3" height="6" fill="#ff0000"/><rect x="1098" y="349" width="1" height="30" fill="#00ff00"/><rect x="1097" y="365" width="3" height="11" fill="#00ff00"/><rect x="1102" y="366" width="1" height="25" fill="#00ff00"/><rect x="1101" y="375" width="3" height="5" fill="#00ff00"/><rect x="1106" y="369" width="1" height="28" fill="#00ff00"/><rect x="1105" y="379" width="3" height="18" fill="#00ff00"/><rect x="1110" y="361" width="1" height="55" fill="#00ff00"/><rect x="1109" y="395" width="3" height="18" fill="#00ff00"/><rect x="1114" y="398" width="1" height="27" fill="#00ff00"/><rect x="1113" y="410" width="3" height="14" fill="#00ff00"/><rect x="1118" y="422" width="1" height="9" fill="#00ff00"/><rect x="1117" y="423" width="3" height="2" fill="#00ff00"/><rect x="1122" y="410" width="1" height="18" fill="#ff0000"/><rect x="1121" y="411" width="3" height="13" fill="#ff0000"/><rect x="1126" y="396" width="1" height="35" fill="#ff0000"/><rect x="1125" y="397" width="3" height="16" fill="#ff0000"/><rect x="1130" y="389" width="1" height="16" fill="#ff0000"/><rect x="1129" y="393" width="3" height="5" fill="#ff0000"/><rect x="1134" y="351" width="1" height="74" fill="#ff0000"/><rect x="1133" y="366" width="3" height="28" fill="#ff0000"/><rect x="1138" y="354" width="1" height="16" fill="#ff0000"/><rect x="1137" y="356" width="3" height="12" fill="#ff0000"/><rect x="1142" y="355" width="1" height="8" fill="#00ff00"/><rect x="1141" y="356" width="3" height="7" fill="#00ff00"/><rect x="1146" y="352" width="1" height="20" fill="#00ff00"/><rect x="1145" y="359" width="3" height="9" fill="#00ff00"/><rect x="1150" y="366" width="1" height="70" fill="#00ff00"/><rect x="1149" y="366" width="3" height="64" fill="#00ff00"/><rect x="1154" y="414" width="1" height="24" fill="#ff0000"/><rect x="1153" y="428" width="3" height="4" fill="#ff0000"/><rect x="1158" y="415" width="1" height="43" fill="#00ff00"/><rect x="1157" y="428" width="3" height="22" fill="#00ff00"/><rect x="1162" y="444" width="1" height="28" fill="#00ff00"/><rect x="1161" y="449" width="3" height="21" fill="#00ff00"/><rect x="1166" y="467" width="1" height="7" fill="#00ff00"/><rect x="1165" y="468" width="3" height="3" fill="#00ff00"/><rect x="1170" y="457" width="1" height="16" fill="#ff0000"/><rect x="1169" y="458" width="3" height="13" fill="#ff0000"/><rect x="1174" y="454" width="1" height="29" fill="#00ff00"/><rect x="1173" y="459" width="3" height="18" fill="#00ff00"/><rect x="1178" y="474" width="1" height="12" fill="#00ff00"/><rect x="1177" y="476" width="3" height="3" fill="#00ff00"/><rect x="1182" y="471" width="1" height="24" fill="#00ff00"/><rect x="1181" y="477" width="3" height="5" fill="#00ff00"/><rect x="1186" y="443" width="1" height="44" fill="#ff0000"/><rect x="1185" y="446" width="3" height="37" fill="#ff0000"/><rect x="1190" y="442" width="1" height="11" fill="#ff0000"/><rect x="1189" y="444" width="3" height="3" fill="#ff0000"/><rect x="1194" y="423" width="1" height="25" fill="#ff0000"/><rect x="1193" y="424" width="3" height="23" fill="#ff0000"/><rect x="1198" y="417" width="1" height="22" fill="#00ff00"/><rect x="1197" y="423" width="3" height="4" fill="#00ff00"/><rect x="1202" y="423" width="1" height="23" fill="#00ff00"/><rect x="1201" y="424" width="3" height="11" fill="#00ff00"/><rect x="1206" y="411" width="1" height="30" fill="#ff0000"/><rect x="1205" y="427" width="3" height="9" fill="#ff0000"/><rect x="1210" y="419" width="1" height="44" fill="#00ff00"/><rect x="1209" y="427" width="3" height="34" fill="#00ff00"/><rect x="1214" y="458" width="1" height="11" fill="#00ff00"/><rect x="1213" y="459" width="3" height="6" fill="#00ff00"/><rect x="1218" y="460" width="1" height="23" fill="#00ff00"/><rect x="1217" y="468" width="3" height="10" fill="#00ff00"/><rect x="1222" y="466" width="1" height="15" fill="#00ff00"/><rect x="1221" y="477" width="3" height="2" fill="#00ff00"/><rect x="1226" y="466" width="1" height="26" fill="#00ff00"/><rect x="1225" y="477" width="3" height="9" fill="#00ff00"/><rect x="1230" y="471" width="1" height="19" fill="#ff0000"/><rect x="1229" y="480" width="3" height="7" fill="#ff0000"/><rect x="1234" y="463" width="1" height="38" fill="#ff0000"/><rect x="1233" y="463" width="3" height="19" fill="#ff0000"/><rect x="1238" y="463" width="1" height="14" fill="#00ff00"/><rect x="1237" y="464" width="3" height="11" fill="#00ff00"/><rect x="1242" y="427" width="1" height="56" fill="#ff0000"/><rect x="1241" y="431" width="3" height="39" fill="#ff0000"/><rect x="1246" y="417" width="1" height="22" fill="#ff0000"/><rect x="1245" y="423" width="3" height="14" fill="#ff0000"/><rect x="1250" y="397" width="1" height="39" fill="#ff0000"/><rect x="1249" y="418" width="3" height="6" fill="#ff0000"/><rect x="1254" y="406" width="1" height="34" fill="#ff0000"/><rect x="1253" y="414" width="3" height="6" fill="#ff0000"/><rect x="1258" y="401" width="1" height="54" fill="#00ff00"/><rect x="1257" y="414" width="3" height="40" fill="#00ff00"/><rect x="1262" y="442" width="1" height="9" fill="#ff0000"/><rect x="1261" y="445" width="3" height="4" fill="#ff0000"/><rect x="1266" y="426" width="1" height="19" fill="#ff0000"/><rect x="1265" y="431" width="3" height="12" fill="#ff0000"/><rect x="1270" y="416" width="1" height="28" fill="#ff0000"/><rect x="1269" y="416" width="3" height="16" fill="#ff0000"/><rect x="1274" y="411" width="1" height="21" fill="#00ff00"/><rect x="1273" y="417" width="3" height="6" fill="#00ff00"/><rect x="1278" y="368" width="1" height="54" fill="#ff0000"/><rect x="1277" y="396" width="3" height="25" fill="#ff0000"/><rect x="1282" y="333" width="1" height="74" fill="#ff0000"/><rect x="1281" y="382" width="3" height="15" fill="#ff0000"/><rect x="1286" y="379" width="1" height="20" fill="#00ff00"/><rect x="1285" y="382" width="3" height="14" fill="#00ff00"/><rect x="1290" y="365" width="1" height="28" fill="#ff0000"/><rect x="1289" y="381" width="3" height="7" fill="#ff0000"/><rect x="1294" y="352" width="1" height="31" fill="#ff0000"/><rect x="1293" y="366" width="3" height="16" fill="#ff0000"/><rect x="1298" y="364" width="1" height="38" fill="#00ff00"/><rect x="1297" y="365" width="3" height="26" fill="#00ff00"/><rect x="1302" y="375" width="1" height="28" fill="#00ff00"/><rect x="1301" y="388" width="3" height="10" fill="#00ff00"/><rect x="1306" y="386" width="1" height="38" fill="#00ff00"/><rect x="1305" y="397" width="3" height="23" fill="#00ff00"/><rect x="1310" y="419" width="1" height="16" fill="#00ff00"/><rect x="1309" y="419" width="3" height="15" fill="#00ff00"/><rect x="1314" y="413" width="1" height="20" fill="#ff0000"/><rect x="1313" y="419" width="3" height="7" fill="#ff0000"/><rect x="1318" y="413" width="1" height="20" fill="#ff0000"/><rect x="1317" y="419" width="3" height="2" fill="#ff0000"/><rect x="1322" y="414" width="1" height="10" fill="#00ff00"/><rect x="1321" y="415" width="3" height="6" fill="#00ff00"/><rect x="1326" y="408" width="1" height="15" fill="#ff0000"/><rect x="1325" y="409" width="3" height="9" fill="#ff0000"/><rect x="1330" y="349" width="1" height="65" fill="#ff0000"/><rect x="1329" y="361" width="3" height="49" fill="#ff0000"/><rect x="1334" y="345" width="1" height="20" fill="#ff0000"/><rect x="1333" y="345" width="3" height="17" fill="#ff0000"/><rect x="1338" y="338" width="1" height="15" fill="#ff0000"/><rect x="1337" y="341" width="3" height="11" fill="#ff0000"/></g><polyline points="2.5,229.6 6.5,221.1 10.5,206.9 14.5,199.0 18.5,198.9 22.5,197.7 26.5,200.2 30.5,207.2 34.5,226.4 38.5,236.9 42.5,234.7 46.5,234.9 50.5,223.4 54.5,205.4 58.5,188.7 62.5,182.7 66.5,175.2 70.5,178.6 74.5,180.2 78.5,182.2 82.5,173.2 86.5,169.0 90.5,163.8 94.5,154.8 98.5,162.0 102.5,168.5 106.5,173.3 110.5,178.3 114.5,178.3 118.5,165.3 122.5,147.4 126.5,130.1 130.5,118.3 134.5,118.3 138.5,114.1 142.5,125.0 146.5,144.7 150.5,159.7 154.5,174.3 158.5,189.3 162.5,201.3 166.5,206.9 170.5,206.9 174.5,209.0 178.5,204.5 182.5,196.2 186.5,183.9 190.5,179.1 194.5,168.1 198.5,156.5 202.5,148.5 206.5,145.4 210.5,142.6 214.5,145.5 218.5,160.6 222.5,177.5 226.5,197.9 230.5,214.0 234.5,233.9 238.5,245.6 242.5,256.3 246.5,265.1 250.5,274.3 254.5,271.4 258.5,270.1 262.5,263.1 266.5,250.5 270.5,237.5 274.5,230.7 278.5,226.0 282.5,221.9 286.5,219.3 290.5,214.1 294.5,206.7 298.5,200.5 302.5,198.3 306.5,204.9 310.5,216.6 314.5,227.5 318.5,250.0 322.5,270.6 326.5,282.5 330.5,294.8 334.5,300.8 338.5,288.8 342.5,278.4 346.5,265.1 350.5,250.7 354.5,241.6 358.5,236.1 362.5,229.1 366.5,224.4 370.5,227.8 374.5,234.3 378.5,238.2 382.5,249.2 386.5,265.9 390.5,275.4 394.5,286.0 398.5,302.0 402.5,312.6 406.5,322.3 410.5,323.8 414.5,324.7 418.5,324.2 422.5,322.6 426.5,311.2 430.5,303.4 434.5,296.8 438.5,290.1 442.5,277.6 446.5,272.3 450.5,268.1 454.5,263.3 458.5,258.1 462.5,267.8 466.5,278.0 470.5,287.2 474.5,292.6 478.5,305.4 482.5,312.8 486.5,326.4 490.5,340.0 494.5,355.6 498.5,362.5 502.5,358.5 506.5,342.2 510.5,336.7 514.5,331.4 518.5,327.2 522.5,330.3 526.5,341.1 530.5,338.8 534.5,332.9 538.5,325.7 542.5,320.8 546.5,312.6 550.5,312.1 554.5,315.5 558.5,325.1 562.5,335.0 566.5,345.6 570.5,351.7 574.5,358.9 578.5,362.2 582.5,361.3 586.5,355.3 590.5,349.0 594.5,343.2 598.5,340.1 602.5,345.8 606.5,354.5 610.5,363.8 614.5,367.1 618.5,362.8 622.5,347.2 626.5,331.8 630.5,310.0 634.5,287.3 638.5,266.6 642.5,255.7 646.5,244.6 650.5,242.2 654.5,249.6 658.5,267.6 662.5,283.2 666.5,295.5 670.5,313.1 674.5,322.6 678.5,313.2 682.5,294.3 686.5,273.8 690.5,243.5 694.5,217.5 698.5,201.5 702.5,195.3 706.5,194.4 710.5,196.8 714.5,208.7 718.5,222.4 722.5,237.1 726.5,250.5 730.5,275.2 734.5,287.8 738.5,301.9 742.5,311.9 746.5,315.7 750.5,308.7 754.5,304.2 758.5,294.2 762.5,287.2 766.5,294.6 770.5,299.0 774.5,303.0 778.5,311.2 782.5,316.7 786.5,316.3 790.5,327.9 794.5,341.1 798.5,350.7 802.5,365.6 806.5,379.0 810.5,381.2 814.5,379.9 818.5,383.1 822.5,392.2 826.5,394.2 830.5,399.3 834.5,391.8 838.5,383.3 842.5,356.4 846.5,343.4 850.5,326.4 854.5,325.1 858.5,321.9 862.5,330.2 866.5,338.6 870.5,357.1 874.5,374.8 878.5,392.1 882.5,404.9 886.5,412.9 890.5,413.1 894.5,413.1 898.5,405.6 902.5,400.4 906.5,396.7 910.5,397.4 914.5,398.4 918.5,411.9 922.5,433.8 926.5,455.1 930.5,474.3 934.5,492.2 938.5,497.2 942.5,489.7 946.5,479.0 950.5,469.1 954.5,454.9 958.5,452.7 962.5,457.8 966.5,453.3 970.5,446.7 974.5,445.5 978.5,450.7 982.5,441.7 986.5,446.1 990.5,450.5 994.5,460.1 998.5,458.6 1002.5,469.3 1006.5,475.0 1010.5,490.0 1014.5,499.8 1018.5,511.2 1022.5,519.3 1026.5,535.4 1030.5,537.5 1034.5,535.6 1038.5,527.9 1042.5,522.4 1046.5,510.1 1050.5,502.5 1054.5,502.9 1058.5,505.5 1062.5,498.9 1066.5,490.3 1070.5,481.3 1074.5,469.6 1078.5,460.4 1082.5,451.4 1086.5,438.0 1090.5,420.9 1094.5,400.1 1098.5,383.4 1102.5,374.0 1106.5,375.7 1110.5,385.0 1114.5,397.2 1118.5,407.1 1122.5,413.5 1126.5,413.7 1130.5,409.7 1134.5,398.3 1138.5,384.7 1142.5,374.9 1146.5,368.9 1150.5,376.2 1154.5,388.6 1158.5,407.2 1162.5,428.6 1166.5,449.2 1170.5,455.0 1174.5,464.4 1178.5,470.1 1182.5,472.6 1186.5,467.8 1190.5,465.0 1194.5,454.6 1198.5,444.1 1202.5,434.7 1206.5,430.9 1210.5,434.1 1214.5,442.3 1218.5,452.5 1222.5,461.2 1226.5,472.8 1230.5,476.8 1234.5,476.6 1238.5,476.0 1242.5,466.7 1246.5,454.2 1250.5,441.8 1254.5,431.9 1258.5,427.8 1262.5,430.6 1266.5,432.3 1270.5,432.0 1274.5,433.6 1278.5,422.1 1282.5,409.4 1286.5,402.1 1290.5,395.1 1294.5,383.9 1298.5,382.8 1302.5,385.9 1306.5,390.7 1310.5,401.1 1314.5,411.6 1318.5,417.3 1322.5,421.9 1326.5,420.0 1330.5,405.6 1334.5,390.9 1338.5,375.3" fill="none" stroke="#ffa500" stroke-width="1" shape-rendering="crispEdges"/><polyline points="2.5,223.2 6.5,224.6 10.5,223.9 14.5,223.2 18.5,221.8 22.5,221.1 26.5,219.7 30.5,217.5 34.5,217.5 38.5,220.4 42.5,219.7 46.5,217.5 50.5,214.0 54.5,210.8 58.5,205.5 62.5,205.8 66.5,204.6 70.5,205.9 74.5,204.2 78.5,199.9 82.5,196.1 86.5,190.9 90.5,183.5 94.5,174.8 98.5,173.9 102.5,172.4 106.5,173.0 110.5,173.8 114.5,171.1 118.5,167.7 122.5,162.5 126.5,155.7 130.5,151.7 134.5,148.3 138.5,146.6 142.5,146.7 146.5,148.9 150.5,153.5 154.5,152.7 158.5,154.0 162.5,156.7 166.5,159.1 170.5,163.7 174.5,168.3 178.5,174.4 182.5,180.3 186.5,182.5 190.5,185.4 194.5,187.6 198.5,185.7 202.5,181.7 206.5,177.4 210.5,174.1 214.5,172.0 218.5,171.1 222.5,171.2 226.5,174.2 230.5,175.9 234.5,182.5 238.5,188.8 242.5,197.1 246.5,204.9 250.5,213.8 254.5,223.5 258.5,232.2 262.5,239.1 266.5,243.5 270.5,246.6 274.5,248.6 278.5,249.5 282.5,247.7 286.5,245.3 290.5,239.6 294.5,234.7 298.5,229.6 302.5,223.8 306.5,220.5 310.5,220.0 314.5,219.5 318.5,224.9 322.5,230.9 326.5,236.6 330.5,242.9 334.5,246.2 338.5,248.8 342.5,252.0 346.5,254.8 350.5,258.6 354.5,260.9 358.5,262.4 362.5,260.7 366.5,257.6 370.5,258.7 374.5,255.3 378.5,250.8 382.5,248.8 386.5,247.3 390.5,249.7 394.5,254.3 398.5,259.2 402.5,265.8 406.5,272.9 410.5,279.0 414.5,285.9 418.5,293.2 422.5,300.8 426.5,302.7 430.5,303.7 434.5,306.8 438.5,307.8 442.5,305.0 446.5,301.6 450.5,297.3 454.5,293.0 458.5,288.4 462.5,285.5 466.5,285.2 470.5,283.9 474.5,281.7 478.5,282.2 482.5,286.1 486.5,293.5 490.5,299.3 494.5,305.1 498.5,312.6 502.5,316.8 506.5,319.9 510.5,325.5 514.5,331.3 518.5,333.8 522.5,335.5 526.5,339.2 530.5,342.0 534.5,341.1 538.5,338.4 542.5,333.5 546.5,329.4 550.5,326.4 554.5,324.3 558.5,326.5 562.5,330.9 566.5,332.6 570.5,333.7 574.5,335.6 578.5,337.9 582.5,338.1 586.5,338.5 590.5,339.4 594.5,341.9 598.5,344.8 602.5,350.0 606.5,353.7 610.5,356.7 614.5,356.9 618.5,354.7 622.5,350.5 626.5,346.6 630.5,339.2 634.5,330.1 638.5,321.0 642.5,314.9 646.5,309.3 650.5,303.2 654.5,297.8 658.5,293.0 662.5,289.5 666.5,284.9 670.5,283.9 674.5,283.4 678.5,280.9 682.5,276.1 686.5,272.0 690.5,268.2 694.5,265.8 698.5,261.5 702.5,258.5 706.5,254.9 710.5,249.4 714.5,244.8 718.5,239.7 722.5,237.6 726.5,232.5 730.5,232.5 734.5,235.7 738.5,242.4 742.5,251.2 746.5,258.4 750.5,265.1 754.5,272.4 758.5,277.8 762.5,284.3 766.5,293.3 770.5,297.3 774.5,301.2 778.5,304.3 782.5,308.0 786.5,308.0 790.5,311.6 794.5,315.2 798.5,318.1 802.5,325.8 806.5,333.1 810.5,339.1 814.5,345.8 818.5,352.3 822.5,360.6 826.5,367.1 830.5,373.5 834.5,374.6 838.5,376.2 842.5,374.9 846.5,372.6 850.5,368.2 854.5,365.5 858.5,360.5 862.5,357.5 866.5,357.4 870.5,360.1 874.5,362.5 878.5,360.5 882.5,361.3 886.5,362.3 890.5,367.7 894.5,373.2 898.5,378.1 902.5,381.7 906.5,387.4 910.5,393.5 914.5,400.5 918.5,407.2 922.5,415.7 926.5,422.4 930.5,429.1 934.5,436.3 938.5,440.2 942.5,443.1 946.5,446.0 950.5,449.1 954.5,453.9 958.5,458.8 962.5,465.0 966.5,465.9 970.5,466.3 974.5,465.9 978.5,464.9 982.5,460.2 986.5,455.8 990.5,451.4 994.5,452.6 998.5,453.8 1002.5,456.7 1006.5,458.0 1010.5,463.9 1014.5,469.5 1018.5,472.9 1022.5,480.3 1026.5,489.6 1030.5,496.8 1034.5,499.8 1038.5,503.6 1042.5,507.5 1046.5,510.9 1050.5,511.9 1054.5,515.6 1058.5,516.5 1062.5,516.1 1066.5,511.0 1070.5,505.3 1074.5,500.7 1078.5,495.5 1082.5,486.1 1086.5,475.5 1090.5,464.4 1094.5,455.1 1098.5,445.8 1102.5,437.5 1106.5,430.2 1110.5,422.2 1114.5,416.4 1118.5,413.1 1122.5,410.0 1126.5,406.1 1130.5,400.9 1134.5,394.3 1138.5,389.3 1142.5,387.5 1146.5,387.5 1150.5,392.3 1154.5,396.1 1158.5,401.1 1162.5,406.3 1166.5,410.5 1170.5,412.9 1174.5,416.6 1178.5,421.3 1182.5,427.4 1186.5,431.2 1190.5,436.7 1194.5,441.5 1198.5,446.1 1202.5,450.9 1206.5,450.8 1210.5,453.0 1214.5,454.1 1218.5,454.6 1222.5,455.2 1226.5,457.1 1230.5,457.4 1234.5,456.4 1238.5,455.8 1242.5,454.7 1246.5,453.3 1250.5,452.8 1254.5,452.0 1258.5,453.4 1262.5,454.7 1266.5,452.6 1270.5,449.2 1274.5,445.3 1278.5,439.4 1282.5,432.0 1286.5,426.0 1290.5,420.1 1294.5,412.4 1298.5,409.4 1302.5,407.6 1306.5,407.7 1310.5,409.1 1314.5,406.6 1318.5,404.7 1322.5,403.9 1326.5,403.4 1330.5,399.0 1334.5,395.4 1338.5,392.5" fill="none" stroke="#ff0000" stroke-width="1" shape-rendering="crispEdges"/><polyline points="2.5,211.1 6.5,210.9 10.5,210.6 14.5,210.4 18.5,212.5 22.5,214.7 26.5,216.8 30.5,218.0 34.5,219.2 38.5,220.4 42.5,218.3 46.5,216.1 50.5,214.0 54.5,210.4 58.5,210.8 62.5,211.1 66.5,212.5 70.5,212.5 74.5,212.5 78.5,212.5 82.5,209.7 86.5,206.8 90.5,204.0 94.5,201.2 98.5,198.3 102.5,198.3 106.5,195.8 110.5,193.3 114.5,190.9 118.5,189.0 122.5,184.0 126.5,180.5 130.5,178.3 134.5,177.2 138.5,174.9 142.5,171.9 146.5,171.2 150.5,170.4 154.5,168.6 158.5,166.9 162.5,166.3 166.5,166.5 170.5,167.6 174.5,169.2 178.5,169.5 182.5,168.6 186.5,168.0 190.5,167.7 194.5,167.2 198.5,165.3 202.5,164.5 206.5,164.0 210.5,164.1 214.5,165.6 218.5,165.0 222.5,166.0 226.5,168.1 230.5,170.1 234.5,174.9 238.5,178.4 242.5,184.1 246.5,190.6 250.5,196.1 254.5,200.4 258.5,204.4 262.5,207.1 266.5,208.3 270.5,209.1 274.5,209.8 278.5,210.5 282.5,210.6 286.5,210.3 290.5,210.3 294.5,209.4 298.5,209.9 302.5,210.9 306.5,213.8 310.5,216.5 314.5,219.3 318.5,225.5 322.5,231.3 326.5,236.7 330.5,241.9 334.5,245.2 338.5,246.8 342.5,248.1 346.5,247.9 350.5,248.0 354.5,246.5 358.5,245.3 362.5,243.5 366.5,241.1 370.5,240.3 374.5,240.3 378.5,239.9 382.5,241.2 386.5,243.7 390.5,246.6 394.5,249.5 398.5,252.6 402.5,256.4 406.5,260.9 410.5,264.9 414.5,269.2 418.5,273.2 422.5,277.1 426.5,278.6 430.5,279.3 434.5,280.7 438.5,279.9 442.5,278.2 446.5,276.9 450.5,274.9 454.5,274.5 458.5,274.8 462.5,276.5 466.5,279.0 470.5,280.9 474.5,283.0 478.5,286.4 482.5,290.4 486.5,296.0 490.5,299.6 494.5,303.2 498.5,307.1 502.5,308.6 506.5,308.8 510.5,309.9 514.5,310.7 518.5,311.3 522.5,311.6 526.5,311.9 530.5,312.4 534.5,312.1 538.5,311.5 542.5,311.3 546.5,312.1 550.5,313.8 554.5,315.2 558.5,317.4 562.5,320.9 566.5,324.3 570.5,327.7 574.5,331.2 578.5,334.7 582.5,336.4 586.5,337.2 590.5,338.0 594.5,339.6 598.5,340.5 602.5,341.9 606.5,341.9 610.5,342.0 614.5,341.5 618.5,340.5 622.5,340.0 626.5,340.2 630.5,337.6 634.5,334.1 638.5,330.4 642.5,327.6 646.5,324.1 650.5,321.5 654.5,320.2 658.5,320.8 662.5,321.4 666.5,321.2 670.5,321.6 674.5,321.4 678.5,318.8 682.5,314.6 686.5,309.3 690.5,303.6 694.5,297.9 698.5,292.0 702.5,286.9 706.5,282.5 710.5,278.2 714.5,275.4 718.5,272.3 722.5,268.8 726.5,265.1 730.5,263.5 734.5,262.2 738.5,262.2 742.5,262.9 746.5,262.4 750.5,263.2 754.5,265.1 758.5,266.8 762.5,268.2 766.5,270.8 770.5,272.7 774.5,274.0 778.5,274.0 782.5,273.7 786.5,274.2 790.5,275.2 794.5,277.0 798.5,280.3 802.5,285.6 806.5,291.8 810.5,298.1 814.5,304.1 818.5,310.6 822.5,318.4 826.5,325.1 830.5,331.9 834.5,334.6 838.5,337.4 842.5,338.3 846.5,340.6 850.5,340.4 854.5,340.8 858.5,340.7 862.5,341.4 866.5,344.4 870.5,348.5 874.5,352.6 878.5,357.0 882.5,361.0 886.5,364.1 890.5,367.5 894.5,371.0 898.5,372.8 902.5,375.0 906.5,377.5 910.5,379.1 914.5,380.5 918.5,383.0 922.5,386.3 926.5,390.1 930.5,394.6 934.5,399.2 938.5,402.0 942.5,402.6 946.5,404.3 950.5,406.2 954.5,409.8 958.5,413.6 962.5,419.5 966.5,422.6 970.5,426.3 974.5,429.8 978.5,435.0 982.5,438.1 986.5,440.5 990.5,441.9 994.5,444.0 998.5,446.1 1002.5,448.8 1006.5,450.9 1010.5,454.7 1014.5,458.5 1018.5,463.7 1022.5,468.6 1026.5,474.0 1030.5,478.0 1034.5,481.4 1038.5,483.0 1042.5,483.4 1046.5,483.2 1050.5,482.7 1054.5,483.1 1058.5,484.4 1062.5,484.9 1066.5,485.0 1070.5,484.7 1074.5,485.6 1078.5,485.7 1082.5,483.8 1086.5,482.5 1090.5,480.4 1094.5,478.0 1098.5,474.5 1102.5,472.6 1106.5,470.8 1110.5,469.5 1114.5,467.5 1118.5,465.9 1122.5,463.2 1126.5,460.5 1130.5,456.1 1134.5,450.6 1138.5,444.8 1142.5,439.2 1146.5,432.8 1150.5,429.3 1154.5,426.1 1158.5,424.7 1162.5,423.5 1166.5,422.6 1170.5,421.3 1174.5,419.7 1178.5,418.8 1182.5,419.2 1186.5,418.9 1190.5,418.6 1194.5,417.2 1198.5,416.1 1202.5,416.4 1206.5,417.7 1210.5,420.8 1214.5,424.2 1218.5,427.6 1222.5,430.9 1226.5,433.9 1230.5,436.1 1234.5,437.5 1238.5,439.1 1242.5,439.8 1246.5,440.6 1250.5,441.5 1254.5,443.1 1258.5,446.3 1262.5,449.1 1266.5,451.2 1270.5,450.8 1274.5,450.6 1278.5,448.8 1282.5,445.9 1286.5,443.3 1290.5,440.8 1294.5,437.1 1298.5,434.2 1302.5,431.4 1306.5,430.5 1310.5,430.1 1314.5,430.0 1318.5,429.7 1322.5,429.3 1326.5,428.7 1330.5,425.4 1334.5,421.4 1338.5,416.9" fill="none" stroke="#0000cd" stroke-width="1" shape-rendering="crispEdges"/><rect x="2" y="340" width="1680" height="1" fill="#c0c0c0"/></g><g clip-path="url(#cr)"><line x1="3" y1="625.5" x2="1682" y2="625.5" stroke="#c0c0c0" stroke-dasharray="3,3" shape-rendering="crispEdges"/><line x1="3" y1="666.5" x2="1682" y2="666.5" stroke="#c0c0c0" stroke-dasharray="3,3" shape-rendering="crispEdges"/><polyline points="2.5,651.2 6.5,644.1 10.5,643.2 14.5,640.2 18.5,645.6 22.5,650.5 26.5,645.9 30.5,647.9 34.5,652.4 38.5,651.5 42.5,647.8 46.5,644.8 50.5,639.3 54.5,640.0 58.5,640.2 62.5,644.8 66.5,640.7 70.5,642.6 74.5,641.9 78.5,642.6 82.5,638.3 86.5,637.7 90.5,639.0 94.5,635.2 98.5,650.4 102.5,645.5 106.5,643.7 110.5,644.8 114.5,637.8 118.5,641.0 122.5,634.2 126.5,633.1 130.5,639.2 134.5,641.0 138.5,640.6 142.5,644.3 146.5,649.7 150.5,651.3 154.5,652.7 158.5,652.4 162.5,653.5 166.5,653.9 170.5,649.9 174.5,653.5 178.5,646.1 182.5,643.7 186.5,640.5 190.5,644.8 194.5,642.6 198.5,636.1 202.5,637.6 206.5,639.1 210.5,644.1 214.5,647.6 218.5,652.0 222.5,654.7 226.5,658.4 230.5,658.6 234.5,663.7 238.5,659.2 242.5,660.7 246.5,662.8 250.5,663.2 254.5,656.2 258.5,653.8 262.5,649.2 266.5,646.1 270.5,646.1 274.5,647.7 278.5,648.0 282.5,643.8 286.5,642.4 290.5,639.2 294.5,637.9 298.5,640.5 302.5,641.9 306.5,653.0 310.5,656.0 314.5,653.0 318.5,664.8 322.5,663.2 326.5,662.0 330.5,664.3 334.5,652.5 338.5,646.7 342.5,647.3 346.5,643.2 350.5,645.3 354.5,642.1 358.5,640.7 362.5,639.5 366.5,638.0 370.5,650.5 374.5,650.8 378.5,645.8 382.5,652.3 386.5,656.4 390.5,658.6 394.5,659.8 398.5,661.0 402.5,661.6 406.5,664.5 410.5,655.6 414.5,656.5 418.5,656.5 422.5,655.7 426.5,646.5 430.5,643.7 434.5,646.6 438.5,646.6 442.5,638.3 446.5,640.1 450.5,638.7 454.5,641.3 458.5,640.7 462.5,652.6 466.5,654.5 470.5,651.0 474.5,647.9 478.5,655.9 482.5,658.9 486.5,665.3 490.5,661.8 494.5,661.8 498.5,658.7 502.5,647.9 506.5,643.0 510.5,651.7 514.5,651.9 518.5,651.0 522.5,650.2 526.5,653.8 530.5,647.9 534.5,643.9 538.5,641.6 542.5,643.8 546.5,644.0 550.5,648.0 554.5,648.7 558.5,653.8 562.5,655.9 566.5,656.9 570.5,654.3 574.5,656.3 578.5,656.7 582.5,652.2 586.5,645.4 590.5,642.6 594.5,646.0 598.5,650.6 602.5,658.3 606.5,656.6 610.5,654.1 614.5,648.0 618.5,641.7 622.5,636.0 626.5,635.2 630.5,628.0 634.5,624.5 638.5,622.9 642.5,630.5 646.5,629.7 650.5,631.3 654.5,638.7 658.5,648.6 662.5,650.9 666.5,646.0 670.5,652.1 674.5,648.6 678.5,638.7 682.5,633.6 686.5,629.9 690.5,627.8 694.5,629.3 698.5,628.9 702.5,632.4 706.5,631.9 710.5,631.6 714.5,644.5 718.5,645.5 722.5,649.3 726.5,647.2 730.5,656.5 734.5,655.0 738.5,657.0 742.5,656.8 746.5,647.5 750.5,647.5 754.5,648.8 758.5,645.5 762.5,648.4 766.5,654.6 770.5,650.9 774.5,651.7 778.5,653.0 782.5,653.0 786.5,653.7 790.5,661.9 794.5,663.9 798.5,660.2 802.5,664.4 806.5,663.0 810.5,659.0 814.5,657.6 818.5,659.7 822.5,668.2 826.5,657.0 830.5,657.5 834.5,643.5 838.5,644.5 842.5,638.6 846.5,644.1 850.5,641.3 854.5,643.5 858.5,642.7 862.5,647.1 866.5,652.1 870.5,657.0 874.5,658.1 878.5,656.6 882.5,656.6 886.5,657.4 890.5,656.1 894.5,657.2 898.5,646.2 902.5,648.5 906.5,651.0 910.5,654.4 914.5,655.8 918.5,659.1 922.5,666.6 926.5,667.7 930.5,668.5 934.5,668.6 938.5,655.5 942.5,653.3 946.5,651.8 950.5,653.7 954.5,648.7 958.5,651.5 962.5,656.8 966.5,644.7 970.5,644.7 974.5,646.0 978.5,654.4 982.5,645.9 986.5,648.0 990.5,648.0 994.5,653.6 998.5,651.5 1002.5,654.6 1006.5,651.6 1010.5,658.6 1014.5,659.7 1018.5,659.1 1022.5,659.5 1026.5,663.3 1030.5,657.2 1034.5,654.0 1038.5,647.2 1042.5,649.7 1046.5,648.0 1050.5,648.0 1054.5,653.4 1058.5,648.7 1062.5,641.9 1066.5,638.7 1070.5,638.3 1074.5,641.8 1078.5,640.2 1082.5,634.4 1086.5,628.6 1090.5,626.0 1094.5,625.4 1098.5,629.2 1102.5,630.4 1106.5,635.0 1110.5,639.3 1114.5,642.0 1118.5,642.3 1122.5,639.4 1126.5,636.4 1130.5,635.5 1134.5,630.4 1138.5,628.8 1142.5,630.6 1146.5,632.5 1150.5,649.0 1154.5,648.9 1158.5,653.3 1162.5,657.0 1166.5,657.2 1170.5,653.6 1174.5,657.2 1178.5,657.5 1182.5,658.3 1186.5,647.8 1190.5,647.1 1194.5,642.0 1198.5,642.5 1202.5,645.0 1206.5,643.1 1210.5,651.7 1214.5,652.8 1218.5,655.7 1222.5,655.9 1226.5,657.7 1230.5,655.5 1234.5,649.7 1238.5,652.6 1242.5,640.2 1246.5,638.2 1250.5,637.0 1254.5,636.1 1258.5,647.9 1262.5,645.7 1266.5,642.1 1270.5,638.4 1274.5,640.3 1278.5,634.4 1282.5,631.7 1286.5,635.8 1290.5,633.0 1294.5,630.2 1298.5,637.7 1302.5,639.9 1306.5,645.6 1310.5,649.1 1314.5,645.3 1318.5,645.3 1322.5,645.8 1326.5,642.7 1330.5,631.9 1334.5,629.3 1338.5,628.5" fill="none" stroke="#1e90ff" stroke-width="1" shape-rendering="crispEdges"/></g><g clip-path="url(#cd)"><g shape-rendering="crispEdges"><rect x="2" y="748" width="1" height="20" fill="#c0c0c0"/><rect x="6" y="748" width="1" height="15" fill="#c0c0c0"/><rect x="10" y="748" width="1" height="11" fill="#c0c0c0"/><rect x="14" y="748" width="1" height="5" fill="#c0c0c0"/><rect x="18" y="748" width="1" height="4" fill="#c0c0c0"/><rect x="22" y="748" width="1" height="8" fill="#c0c0c0"/><rect x="26" y="748" width="1" height="7" fill="#c0c0c0"/><rect x="30" y="748" width="1" height="8" fill="#c0c0c0"/><rect x="34" y="748" width="1" height="12" fill="#c0c0c0"/><rect x="38" y="748" width="1" height="15" fill="#c0c0c0"/><rect x="42" y="748" width="1" height="15" fill="#c0c0c0"/><rect x="46" y="748" width="1" height="12" fill="#c0c0c0"/><rect x="50" y="748" width="1" height="5" fill="#c0c0c0"/><rect x="54" y="747" width="1" height="2" fill="#c0c0c0"/><rect x="58" y="743" width="1" height="6" fill="#c0c0c0"/><rect x="62" y="743" width="1" height="6" fill="#c0c0c0"/><rect x="66" y="740" width="1" height="9" fill="#c0c0c0"/><rect x="70" y="739" width="1" height="10" fill="#c0c0c0"/><rect x="74" y="738" width="1" height="11" fill="#c0c0c0"/><rect x="78" y="738" width="1" height="11" fill="#c0c0c0"/><rect x="82" y="735" width="1" height="14" fill="#c0c0c0"/><rect x="86" y="732" width="1" height="17" fill="#c0c0c0"/><rect x="90" y="731" width="1" height="18" fill="#c0c0c0"/><rect x="94" y="727" width="1" height="22" fill="#c0c0c0"/><rect x="98" y="734" width="1" height="15" fill="#c0c0c0"/><rect x="102" y="736" width="1" height="13" fill="#c0c0c0"/><rect x="106" y="736" width="1" height="13" fill="#c0c0c0"/><rect x="110" y="738" width="1" height="11" fill="#c0c0c0"/><rect x="114" y="734" width="1" height="15" fill="#c0c0c0"/><rect x="118" y="733" width="1" height="16" fill="#c0c0c0"/><rect x="122" y="726" width="1" height="23" fill="#c0c0c0"/><rect x="126" y="720" width="1" height="29" fill="#c0c0c0"/><rect x="130" y="720" width="1" height="29" fill="#c0c0c0"/><rect x="134" y="721" width="1" height="28" fill="#c0c0c0"/><rect x="138" y="722" width="1" height="27" fill="#c0c0c0"/><rect x="142" y="725" width="1" height="24" fill="#c0c0c0"/><rect x="146" y="731" width="1" height="18" fill="#c0c0c0"/><rect x="150" y="738" width="1" height="11" fill="#c0c0c0"/><rect x="154" y="744" width="1" height="5" fill="#c0c0c0"/><rect x="158" y="748" width="1" height="2" fill="#c0c0c0"/><rect x="162" y="748" width="1" height="6" fill="#c0c0c0"/><rect x="166" y="748" width="1" height="10" fill="#c0c0c0"/><rect x="170" y="748" width="1" height="11" fill="#c0c0c0"/><rect x="174" y="748" width="1" height="14" fill="#c0c0c0"/><rect x="178" y="748" width="1" height="12" fill="#c0c0c0"/><rect x="182" y="748" width="1" height="9" fill="#c0c0c0"/><rect x="186" y="748" width="1" height="5" fill="#c0c0c0"/><rect x="190" y="748" width="1" height="4" fill="#c0c0c0"/><rect x="194" y="748" width="1" height="2" fill="#c0c0c0"/><rect x="198" y="743" width="1" height="6" fill="#c0c0c0"/><rect x="202" y="739" width="1" height="10" fill="#c0c0c0"/><rect x="206" y="737" width="1" height="12" fill="#c0c0c0"/><rect x="210" y="738" width="1" height="11" fill="#c0c0c0"/><rect x="214" y="741" width="1" height="8" fill="#c0c0c0"/><rect x="218" y="745" width="1" height="4" fill="#c0c0c0"/><rect x="222" y="748" width="1" height="4" fill="#c0c0c0"/><rect x="226" y="748" width="1" height="10" fill="#c0c0c0"/><rect x="230" y="748" width="1" height="16" fill="#c0c0c0"/><rect x="234" y="748" width="1" height="23" fill="#c0c0c0"/><rect x="238" y="748" width="1" height="27" fill="#c0c0c0"/><rect x="242" y="748" width="1" height="31" fill="#c0c0c0"/><rect x="246" y="748" width="1" height="35" fill="#c0c0c0"/><rect x="250" y="748" width="1" height="39" fill="#c0c0c0"/><rect x="254" y="748" width="1" height="38" fill="#c0c0c0"/><rect x="258" y="748" width="1" height="36" fill="#c0c0c0"/><rect x="262" y="748" width="1" height="32" fill="#c0c0c0"/><rect x="266" y="748" width="1" height="28" fill="#c0c0c0"/><rect x="270" y="748" width="1" height="24" fill="#c0c0c0"/><rect x="274" y="748" width="1" height="21" fill="#c0c0c0"/><rect x="278" y="748" width="1" height="19" fill="#c0c0c0"/><rect x="282" y="748" width="1" height="15" fill="#c0c0c0"/><rect x="286" y="748" width="1" height="12" fill="#c0c0c0"/><rect x="290" y="748" width="1" height="7" fill="#c0c0c0"/><rect x="294" y="748" width="1" height="4" fill="#c0c0c0"/><rect x="298" y="748" width="1" height="1" fill="#c0c0c0"/><rect x="302" y="747" width="1" height="2" fill="#c0c0c0"/><rect x="306" y="748" width="1" height="3" fill="#c0c0c0"/><rect x="310" y="748" width="1" height="7" fill="#c0c0c0"/><rect x="314" y="748" width="1" height="9" fill="#c0c0c0"/><rect x="318" y="748" width="1" height="17" fill="#c0c0c0"/><rect x="322" y="748" width="1" height="23" fill="#c0c0c0"/><rect x="326" y="748" width="1" height="27" fill="#c0c0c0"/><rect x="330" y="748" width="1" height="31" fill="#c0c0c0"/><rect x="334" y="748" width="1" height="30" fill="#c0c0c0"/><rect x="338" y="748" width="1" height="26" fill="#c0c0c0"/><rect x="342" y="748" width="1" height="23" fill="#c0c0c0"/><rect x="346" y="748" width="1" height="18" fill="#c0c0c0"/><rect x="350" y="748" width="1" height="15" fill="#c0c0c0"/><rect x="354" y="748" width="1" height="11" fill="#c0c0c0"/><rect x="358" y="748" width="1" height="7" fill="#c0c0c0"/><rect x="362" y="748" width="1" height="4" fill="#c0c0c0"/><rect x="366" y="747" width="1" height="2" fill="#c0c0c0"/><rect x="370" y="748" width="1" height="3" fill="#c0c0c0"/><rect x="374" y="748" width="1" height="5" fill="#c0c0c0"/><rect x="378" y="748" width="1" height="4" fill="#c0c0c0"/><rect x="382" y="748" width="1" height="7" fill="#c0c0c0"/><rect x="386" y="748" width="1" height="11" fill="#c0c0c0"/><rect x="390" y="748" width="1" height="16" fill="#c0c0c0"/><rect x="394" y="748" width="1" height="21" fill="#c0c0c0"/><rect x="398" y="748" width="1" height="24" fill="#c0c0c0"/><rect x="402" y="748" width="1" height="28" fill="#c0c0c0"/><rect x="406" y="748" width="1" height="32" fill="#c0c0c0"/><rect x="410" y="748" width="1" height="32" fill="#c0c0c0"/><rect x="414" y="748" width="1" height="32" fill="#c0c0c0"/><rect x="418" y="748" width="1" height="31" fill="#c0c0c0"/><rect x="422" y="748" width="1" height="30" fill="#c0c0c0"/><rect x="426" y="748" width="1" height="26" fill="#c0c0c0"/><rect x="430" y="748" width="1" height="21" fill="#c0c0c0"/><rect x="434" y="748" width="1" height="19" fill="#c0c0c0"/><rect x="438" y="748" width="1" height="16" fill="#c0c0c0"/><rect x="442" y="748" width="1" height="11" fill="#c0c0c0"/><rect x="446" y="748" width="1" height="7" fill="#c0c0c0"/><rect x="450" y="748" width="1" height="3" fill="#c0c0c0"/><rect x="454" y="748" width="1" height="1" fill="#c0c0c0"/><rect x="458" y="746" width="1" height="3" fill="#c0c0c0"/><rect x="462" y="748" width="1" height="2" fill="#c0c0c0"/><rect x="466" y="748" width="1" height="6" fill="#c0c0c0"/><rect x="470" y="748" width="1" height="7" fill="#c0c0c0"/><rect x="474" y="748" width="1" height="7" fill="#c0c0c0"/><rect x="478" y="748" width="1" height="11" fill="#c0c0c0"/><rect x="482" y="748" width="1" height="15" fill="#c0c0c0"/><rect x="486" y="748" width="1" height="22" fill="#c0c0c0"/><rect x="490" y="748" width="1" height="27" fill="#c0c0c0"/><rect x="494" y="748" width="1" height="30" fill="#c0c0c0"/><rect x="498" y="748" width="1" height="31" fill="#c0c0c0"/><rect x="502" y="748" width="1" height="27" fill="#c0c0c0"/><rect x="506" y="748" width="1" height="22" fill="#c0c0c0"/><rect x="510" y="748" width="1" height="22" fill="#c0c0c0"/><rect x="514" y="748" width="1" height="22" fill="#c0c0c0"/><rect x="518" y="748" width="1" height="21" fill="#c0c0c0"/><rect x="522" y="748" width="1" height="20" fill="#c0c0c0"/><rect x="526" y="748" width="1" height="21" fill="#c0c0c0"/><rect x="530" y="748" width="1" height="19" fill="#c0c0c0"/><rect x="534" y="748" width="1" height="15" fill="#c0c0c0"/><rect x="538" y="748" width="1" height="11" fill="#c0c0c0"/><rect x="542" y="748" width="1" height="8" fill="#c0c0c0"/><rect x="546" y="748" width="1" height="7" fill="#c0c0c0"/><rect x="550" y="748" width="1" height="7" fill="#c0c0c0"/><rect x="554" y="748" width="1" height="7" fill="#c0c0c0"/><rect x="558" y="748" width="1" height="9" fill="#c0c0c0"/><rect x="562" y="748" width="1" height="12" fill="#c0c0c0"/><rect x="566" y="748" width="1" height="15" fill="#c0c0c0"/><rect x="570" y="748" width="1" height="16" fill="#c0c0c0"/><rect x="574" y="748" width="1" height="17" fill="#c0c0c0"/><rect x="578" y="748" width="1" height="19" fill="#c0c0c0"/><rect x="582" y="748" width="1" height="18" fill="#c0c0c0"/><rect x="586" y="748" width="1" height="15" fill="#c0c0c0"/><rect x="590" y="748" width="1" height="12" fill="#c0c0c0"/><rect x="594" y="748" width="1" height="10" fill="#c0c0c0"/><rect x="598" y="748" width="1" height="11" fill="#c0c0c0"/><rect x="602" y="748" width="1" height="14" fill="#c0c0c0"/><rect x="606" y="748" width="1" height="16" fill="#c0c0c0"/><rect x="610" y="748" width="1" height="17" fill="#c0c0c0"/><rect x="614" y="748" width="1" height="15" fill="#c0c0c0"/><rect x="618" y="748" width="1" height="11" fill="#c0c0c0"/><rect x="622" y="748" width="1" height="6" fill="#c0c0c0"/><rect x="626" y="748" width="1" height="1" fill="#c0c0c0"/><rect x="630" y="740" width="1" height="9" fill="#c0c0c0"/><rect x="634" y="731" width="1" height="18" fill="#c0c0c0"/><rect x="638" y="723" width="1" height="26" fill="#c0c0c0"/><rect x="642" y="719" width="1" height="30" fill="#c0c0c0"/><rect x="646" y="717" width="1" height="32" fill="#c0c0c0"/><rect x="650" y="715" width="1" height="34" fill="#c0c0c0"/><rect x="654" y="717" width="1" height="32" fill="#c0c0c0"/><rect x="658" y="724" width="1" height="25" fill="#c0c0c0"/><rect x="662" y="730" width="1" height="19" fill="#c0c0c0"/><rect x="666" y="733" width="1" height="16" fill="#c0c0c0"/><rect x="670" y="739" width="1" height="10" fill="#c0c0c0"/><rect x="674" y="742" width="1" height="7" fill="#c0c0c0"/><rect x="678" y="739" width="1" height="10" fill="#c0c0c0"/><rect x="682" y="733" width="1" height="16" fill="#c0c0c0"/><rect x="686" y="725" width="1" height="24" fill="#c0c0c0"/><rect x="690" y="717" width="1" height="32" fill="#c0c0c0"/><rect x="694" y="712" width="1" height="37" fill="#c0c0c0"/><rect x="698" y="708" width="1" height="41" fill="#c0c0c0"/><rect x="702" y="707" width="1" height="42" fill="#c0c0c0"/><rect x="706" y="706" width="1" height="43" fill="#c0c0c0"/><rect x="710" y="706" width="1" height="43" fill="#c0c0c0"/><rect x="714" y="712" width="1" height="37" fill="#c0c0c0"/><rect x="718" y="717" width="1" height="32" fill="#c0c0c0"/><rect x="722" y="724" width="1" height="25" fill="#c0c0c0"/><rect x="726" y="729" width="1" height="20" fill="#c0c0c0"/><rect x="730" y="738" width="1" height="11" fill="#c0c0c0"/><rect x="734" y="745" width="1" height="4" fill="#c0c0c0"/><rect x="738" y="748" width="1" height="5" fill="#c0c0c0"/><rect x="742" y="748" width="1" height="11" fill="#c0c0c0"/><rect x="746" y="748" width="1" height="10" fill="#c0c0c0"/><rect x="750" y="748" width="1" height="10" fill="#c0c0c0"/><rect x="754" y="748" width="1" height="10" fill="#c0c0c0"/><rect x="758" y="748" width="1" height="9" fill="#c0c0c0"/><rect x="762" y="748" width="1" height="9" fill="#c0c0c0"/><rect x="766" y="748" width="1" height="12" fill="#c0c0c0"/><rect x="770" y="748" width="1" height="13" fill="#c0c0c0"/><rect x="774" y="748" width="1" height="14" fill="#c0c0c0"/><rect x="778" y="748" width="1" height="16" fill="#c0c0c0"/><rect x="782" y="748" width="1" height="17" fill="#c0c0c0"/><rect x="786" y="748" width="1" height="18" fill="#c0c0c0"/><rect x="790" y="748" width="1" height="23" fill="#c0c0c0"/><rect x="794" y="748" width="1" height="28" fill="#c0c0c0"/><rect x="798" y="748" width="1" height="30" fill="#c0c0c0"/><rect x="802" y="748" width="1" height="35" fill="#c0c0c0"/><rect x="806" y="748" width="1" height="38" fill="#c0c0c0"/><rect x="810" y="748" width="1" height="38" fill="#c0c0c0"/><rect x="814" y="748" width="1" height="37" fill="#c0c0c0"/><rect x="818" y="748" width="1" height="37" fill="#c0c0c0"/><rect x="822" y="748" width="1" height="43" fill="#c0c0c0"/><rect x="826" y="748" width="1" height="43" fill="#c0c0c0"/><rect x="830" y="748" width="1" height="43" fill="#c0c0c0"/><rect x="834" y="748" width="1" height="35" fill="#c0c0c0"/><rect x="838" y="748" width="1" height="29" fill="#c0c0c0"/><rect x="842" y="748" width="1" height="20" fill="#c0c0c0"/><rect x="846" y="748" width="1" height="16" fill="#c0c0c0"/><rect x="850" y="748" width="1" height="11" fill="#c0c0c0"/><rect x="854" y="748" width="1" height="8" fill="#c0c0c0"/><rect x="858" y="748" width="1" height="5" fill="#c0c0c0"/><rect x="862" y="748" width="1" height="5" fill="#c0c0c0"/><rect x="866" y="748" width="1" height="8" fill="#c0c0c0"/><rect x="870" y="748" width="1" height="14" fill="#c0c0c0"/><rect x="874" y="748" width="1" height="20" fill="#c0c0c0"/><rect x="878" y="748" width="1" height="23" fill="#c0c0c0"/><rect x="882" y="748" width="1" height="25" fill="#c0c0c0"/><rect x="886" y="748" width="1" height="27" fill="#c0c0c0"/><rect x="890" y="748" width="1" height="28" fill="#c0c0c0"/><rect x="894" y="748" width="1" height="29" fill="#c0c0c0"/><rect x="898" y="748" width="1" height="25" fill="#c0c0c0"/><rect x="902" y="748" width="1" height="23" fill="#c0c0c0"/><rect x="906" y="748" width="1" height="22" fill="#c0c0c0"/><rect x="910" y="748" width="1" height="23" fill="#c0c0c0"/><rect x="914" y="748" width="1" height="24" fill="#c0c0c0"/><rect x="918" y="748" width="1" height="27" fill="#c0c0c0"/><rect x="922" y="748" width="1" height="35" fill="#c0c0c0"/><rect x="926" y="748" width="1" height="41" fill="#c0c0c0"/><rect x="930" y="748" width="1" height="47" fill="#c0c0c0"/><rect x="934" y="748" width="1" height="51" fill="#c0c0c0"/><rect x="938" y="748" width="1" height="48" fill="#c0c0c0"/><rect x="942" y="748" width="1" height="45" fill="#c0c0c0"/><rect x="946" y="748" width="1" height="41" fill="#c0c0c0"/><rect x="950" y="748" width="1" height="38" fill="#c0c0c0"/><rect x="954" y="748" width="1" height="34" fill="#c0c0c0"/><rect x="958" y="748" width="1" height="32" fill="#c0c0c0"/><rect x="962" y="748" width="1" height="32" fill="#c0c0c0"/><rect x="966" y="748" width="1" height="27" fill="#c0c0c0"/><rect x="970" y="748" width="1" height="22" fill="#c0c0c0"/><rect x="974" y="748" width="1" height="19" fill="#c0c0c0"/><rect x="978" y="748" width="1" height="21" fill="#c0c0c0"/><rect x="982" y="748" width="1" height="18" fill="#c0c0c0"/><rect x="986" y="748" width="1" height="17" fill="#c0c0c0"/><rect x="990" y="748" width="1" height="16" fill="#c0c0c0"/><rect x="994" y="748" width="1" height="18" fill="#c0c0c0"/><rect x="998" y="748" width="1" height="19" fill="#c0c0c0"/><rect x="1002" y="748" width="1" height="21" fill="#c0c0c0"/><rect x="1006" y="748" width="1" height="21" fill="#c0c0c0"/><rect x="1010" y="748" width="1" height="26" fill="#c0c0c0"/><rect x="1014" y="748" width="1" height="30" fill="#c0c0c0"/><rect x="1018" y="748" width="1" height="33" fill="#c0c0c0"/><rect x="1022" y="748" width="1" height="35" fill="#c0c0c0"/><rect x="1026" y="748" width="1" height="39" fill="#c0c0c0"/><rect x="1030" y="748" width="1" height="39" fill="#c0c0c0"/><rect x="1034" y="748" width="1" height="38" fill="#c0c0c0"/><rect x="1038" y="748" width="1" height="33" fill="#c0c0c0"/><rect x="1042" y="748" width="1" height="30" fill="#c0c0c0"/><rect x="1046" y="748" width="1" height="27" fill="#c0c0c0"/><rect x="1050" y="748" width="1" height="24" fill="#c0c0c0"/><rect x="1054" y="748" width="1" height="24" fill="#c0c0c0"/><rect x="1058" y="748" width="1" height="22" fill="#c0c0c0"/><rect x="1062" y="748" width="1" height="16" fill="#c0c0c0"/><rect x="1066" y="748" width="1" height="10" fill="#c0c0c0"/><rect x="1070" y="748" width="1" height="5" fill="#c0c0c0"/><rect x="1074" y="748" width="1" height="2" fill="#c0c0c0"/><rect x="1078" y="746" width="1" height="3" fill="#c0c0c0"/><rect x="1082" y="741" width="1" height="8" fill="#c0c0c0"/><rect x="1086" y="732" width="1" height="17" fill="#c0c0c0"/><rect x="1090" y="723" width="1" height="26" fill="#c0c0c0"/><rect x="1094" y="716" width="1" height="33" fill="#c0c0c0"/><rect x="1098" y="713" width="1" height="36" fill="#c0c0c0"/><rect x="1102" y="711" width="1" height="38" fill="#c0c0c0"/><rect x="1106" y="711" width="1" height="38" fill="#c0c0c0"/><rect x="1110" y="714" width="1" height="35" fill="#c0c0c0"/><rect x="1114" y="717" width="1" height="32" fill="#c0c0c0"/><rect x="1118" y="721" width="1" height="28" fill="#c0c0c0"/><rect x="1122" y="722" width="1" height="27" fill="#c0c0c0"/><rect x="1126" y="722" width="1" height="27" fill="#c0c0c0"/><rect x="1130" y="722" width="1" height="27" fill="#c0c0c0"/><rect x="1134" y="719" width="1" height="30" fill="#c0c0c0"/><rect x="1138" y="716" width="1" height="33" fill="#c0c0c0"/><rect x="1142" y="715" width="1" height="34" fill="#c0c0c0"/><rect x="1146" y="715" width="1" height="34" fill="#c0c0c0"/><rect x="1150" y="722" width="1" height="27" fill="#c0c0c0"/><rect x="1154" y="728" width="1" height="21" fill="#c0c0c0"/><rect x="1158" y="734" width="1" height="15" fill="#c0c0c0"/><rect x="1162" y="742" width="1" height="7" fill="#c0c0c0"/><rect x="1166" y="748" width="1" height="1" fill="#c0c0c0"/><rect x="1170" y="748" width="1" height="5" fill="#c0c0c0"/><rect x="1174" y="748" width="1" height="10" fill="#c0c0c0"/><rect x="1178" y="748" width="1" height="13" fill="#c0c0c0"/><rect x="1182" y="748" width="1" height="16" fill="#c0c0c0"/><rect x="1186" y="748" width="1" height="15" fill="#c0c0c0"/><rect x="1190" y="748" width="1" height="13" fill="#c0c0c0"/><rect x="1194" y="748" width="1" height="10" fill="#c0c0c0"/><rect x="1198" y="748" width="1" height="7" fill="#c0c0c0"/><rect x="1202" y="748" width="1" height="6" fill="#c0c0c0"/><rect x="1206" y="748" width="1" height="4" fill="#c0c0c0"/><rect x="1210" y="748" width="1" height="6" fill="#c0c0c0"/><rect x="1214" y="748" width="1" height="8" fill="#c0c0c0"/><rect x="1218" y="748" width="1" height="11" fill="#c0c0c0"/><rect x="1222" y="748" width="1" height="14" fill="#c0c0c0"/><rect x="1226" y="748" width="1" height="16" fill="#c0c0c0"/><rect x="1230" y="748" width="1" height="17" fill="#c0c0c0"/><rect x="1234" y="748" width="1" height="16" fill="#c0c0c0"/><rect x="1238" y="748" width="1" height="16" fill="#c0c0c0"/><rect x="1242" y="748" width="1" height="11" fill="#c0c0c0"/><rect x="1246" y="748" width="1" height="7" fill="#c0c0c0"/><rect x="1250" y="748" width="1" height="3" fill="#c0c0c0"/><rect x="1254" y="746" width="1" height="3" fill="#c0c0c0"/><rect x="1258" y="747" width="1" height="2" fill="#c0c0c0"/><rect x="1262" y="747" width="1" height="2" fill="#c0c0c0"/><rect x="1266" y="746" width="1" height="3" fill="#c0c0c0"/><rect x="1270" y="743" width="1" height="6" fill="#c0c0c0"/><rect x="1274" y="742" width="1" height="7" fill="#c0c0c0"/><rect x="1278" y="738" width="1" height="11" fill="#c0c0c0"/><rect x="1282" y="734" width="1" height="15" fill="#c0c0c0"/><rect x="1286" y="732" width="1" height="17" fill="#c0c0c0"/><rect x="1290" y="729" width="1" height="20" fill="#c0c0c0"/><rect x="1294" y="725" width="1" height="24" fill="#c0c0c0"/><rect x="1298" y="726" width="1" height="23" fill="#c0c0c0"/><rect x="1302" y="727" width="1" height="22" fill="#c0c0c0"/><rect x="1306" y="730" width="1" height="19" fill="#c0c0c0"/><rect x="1310" y="734" width="1" height="15" fill="#c0c0c0"/><rect x="1314" y="736" width="1" height="13" fill="#c0c0c0"/><rect x="1318" y="738" width="1" height="11" fill="#c0c0c0"/><rect x="1322" y="740" width="1" height="9" fill="#c0c0c0"/><rect x="1326" y="740" width="1" height="9" fill="#c0c0c0"/><rect x="1330" y="735" width="1" height="14" fill="#c0c0c0"/><rect x="1334" y="730" width="1" height="19" fill="#c0c0c0"/><rect x="1338" y="725" width="1" height="24" fill="#c0c0c0"/></g><polyline points="2.5,773.6 6.5,772.1 10.5,770.1 14.5,767.3 18.5,764.5 22.5,762.3 26.5,760.0 30.5,758.1 34.5,757.0 38.5,756.4 42.5,756.3 46.5,756.4 50.5,756.4 54.5,755.9 58.5,754.6 62.5,753.4 66.5,751.8 70.5,749.5 74.5,746.9 78.5,744.2 82.5,741.5 86.5,739.3 90.5,737.5 94.5,735.8 98.5,734.8 102.5,734.3 106.5,734.0 110.5,734.0 114.5,733.5 118.5,733.3 122.5,732.7 126.5,731.6 130.5,730.8 134.5,729.3 138.5,727.7 142.5,726.5 146.5,725.8 150.5,726.2 154.5,727.5 158.5,730.0 162.5,733.7 166.5,737.8 170.5,741.9 174.5,746.2 178.5,749.9 182.5,752.7 186.5,754.2 190.5,755.0 194.5,755.0 198.5,753.9 202.5,751.9 206.5,749.7 210.5,747.2 214.5,745.2 218.5,744.0 222.5,743.8 226.5,744.5 230.5,746.1 234.5,749.1 238.5,753.0 242.5,757.5 246.5,762.4 250.5,767.4 254.5,771.8 258.5,775.4 262.5,777.9 266.5,779.2 270.5,779.3 274.5,778.6 278.5,777.3 282.5,775.0 286.5,772.0 290.5,768.6 294.5,765.0 298.5,761.5 302.5,758.4 306.5,756.1 310.5,754.5 314.5,753.4 318.5,753.6 322.5,754.9 326.5,757.0 330.5,760.1 334.5,763.3 338.5,766.2 342.5,768.4 346.5,769.6 350.5,770.3 354.5,769.7 358.5,768.0 362.5,765.4 366.5,761.9 370.5,758.9 374.5,756.5 378.5,754.5 382.5,753.2 386.5,752.8 390.5,753.3 394.5,754.8 398.5,757.1 402.5,760.2 406.5,763.4 410.5,766.4 414.5,769.5 418.5,772.2 422.5,774.3 426.5,775.4 430.5,775.5 434.5,774.8 438.5,773.5 442.5,771.2 446.5,768.4 450.5,765.3 454.5,761.9 458.5,758.4 462.5,755.8 466.5,754.1 470.5,752.8 474.5,751.8 478.5,751.8 482.5,752.7 486.5,754.9 490.5,757.7 494.5,761.1 498.5,764.3 502.5,766.7 506.5,768.3 510.5,770.0 514.5,771.2 518.5,771.9 522.5,771.7 526.5,771.0 530.5,769.8 534.5,768.0 538.5,766.2 542.5,764.7 546.5,763.0 550.5,761.3 554.5,759.7 558.5,758.5 562.5,757.5 566.5,757.1 570.5,757.2 574.5,757.9 578.5,759.0 582.5,760.3 586.5,761.2 590.5,761.8 594.5,761.9 598.5,761.7 602.5,761.6 606.5,761.7 610.5,761.6 614.5,761.3 618.5,760.5 622.5,759.5 626.5,758.2 630.5,756.3 634.5,753.3 638.5,749.0 642.5,744.2 646.5,738.9 650.5,733.7 654.5,729.1 658.5,725.9 662.5,724.0 666.5,723.2 670.5,724.1 674.5,726.2 678.5,728.4 682.5,730.1 686.5,731.2 690.5,731.1 694.5,729.8 698.5,727.3 702.5,724.4 706.5,720.7 710.5,716.7 714.5,713.7 718.5,712.0 722.5,711.9 726.5,713.3 730.5,716.2 734.5,720.4 738.5,725.5 742.5,731.2 746.5,737.0 750.5,742.0 754.5,746.4 758.5,749.9 762.5,752.9 766.5,755.2 770.5,756.9 774.5,757.9 778.5,758.5 782.5,759.2 786.5,760.1 790.5,761.5 794.5,763.7 798.5,766.1 802.5,768.6 806.5,771.3 810.5,773.9 814.5,776.2 818.5,778.5 822.5,781.4 826.5,783.6 830.5,785.2 834.5,785.7 838.5,785.0 842.5,783.1 846.5,780.6 850.5,777.7 854.5,774.4 858.5,770.1 862.5,765.9 866.5,762.1 870.5,759.9 874.5,758.9 878.5,759.2 882.5,760.3 886.5,762.1 890.5,764.4 894.5,767.1 898.5,769.3 902.5,770.9 906.5,771.8 910.5,772.1 914.5,772.3 918.5,772.4 922.5,773.2 926.5,774.7 930.5,776.6 934.5,779.5 938.5,782.3 942.5,784.8 946.5,786.8 950.5,788.4 954.5,789.1 958.5,788.8 962.5,787.8 966.5,785.6 970.5,782.5 974.5,779.2 978.5,776.6 982.5,774.1 986.5,771.7 990.5,769.7 994.5,768.2 998.5,766.6 1002.5,766.0 1006.5,765.8 1010.5,766.6 1014.5,767.6 1018.5,769.3 1022.5,771.3 1026.5,773.9 1030.5,776.3 1034.5,778.4 1038.5,779.8 1042.5,780.7 1046.5,780.8 1050.5,780.1 1054.5,779.1 1058.5,777.6 1062.5,775.1 1066.5,771.8 1070.5,768.2 1074.5,764.8 1078.5,761.4 1082.5,757.7 1086.5,753.5 1090.5,748.2 1094.5,742.3 1098.5,736.7 1102.5,731.5 1106.5,726.9 1110.5,723.0 1114.5,719.8 1118.5,717.5 1122.5,716.4 1126.5,716.3 1130.5,716.9 1134.5,717.6 1138.5,718.2 1142.5,718.7 1146.5,718.8 1150.5,719.3 1154.5,720.1 1158.5,721.5 1162.5,723.7 1166.5,726.7 1170.5,730.3 1174.5,734.8 1178.5,739.8 1182.5,745.2 1186.5,749.7 1190.5,753.3 1194.5,755.8 1198.5,757.2 1202.5,757.7 1206.5,757.6 1210.5,757.3 1214.5,756.8 1218.5,756.2 1222.5,756.0 1226.5,756.3 1230.5,757.1 1234.5,758.0 1238.5,759.1 1242.5,759.9 1246.5,760.0 1250.5,759.3 1254.5,757.9 1258.5,756.4 1262.5,754.7 1266.5,752.7 1270.5,750.5 1274.5,748.1 1278.5,745.8 1282.5,743.6 1286.5,741.6 1290.5,739.7 1294.5,737.3 1298.5,734.9 1302.5,732.8 1306.5,731.3 1310.5,730.5 1314.5,730.3 1318.5,730.8 1322.5,731.7 1326.5,732.9 1330.5,733.9 1334.5,734.4 1338.5,734.2" fill="none" stroke="#ff0000" stroke-width="1" stroke-dasharray="3,3" shape-rendering="crispEdges"/></g><g shape-rendering="crispEdges" fill="none" stroke="#000" stroke-width="1"><rect x="1.5" y="24.5" width="1681" height="567"/><rect x="1.5" y="593.5" width="1681" height="104"/><rect x="1.5" y="699.5" width="1681" height="103"/></g><g shape-rendering="crispEdges"><rect x="2" y="266" width="1681" height="2" fill="#ff0000"/><rect x="1" y="264" width="6" height="6" fill="#ff0000"/><rect x="3" y="266" width="2" height="2" fill="#fff"/><rect x="1676" y="264" width="6" height="6" fill="#ff0000"/><rect x="1678" y="266" width="2" height="2" fill="#fff"/><rect x="2" y="330" width="1681" height="2" fill="#ff0000"/><rect x="1" y="328" width="6" height="6" fill="#ff0000"/><rect x="3" y="330" width="2" height="2" fill="#fff"/><rect x="1676" y="328" width="6" height="6" fill="#ff0000"/><rect x="1678" y="330" width="2" height="2" fill="#fff"/><rect x="2" y="407" width="1681" height="2" fill="#00ff00"/><rect x="1" y="405" width="6" height="6" fill="#00ff00"/><rect x="3" y="407" width="2" height="2" fill="#fff"/><rect x="1676" y="405" width="6" height="6" fill="#00ff00"/><rect x="1678" y="407" width="2" height="2" fill="#fff"/><rect x="2" y="483" width="1681" height="2" fill="#0000cd"/><rect x="1" y="481" width="6" height="6" fill="#0000cd"/><rect x="3" y="483" width="2" height="2" fill="#fff"/><rect x="1676" y="481" width="6" height="6" fill="#0000cd"/><rect x="1678" y="483" width="2" height="2" fill="#fff"/><rect x="2" y="574" width="1681" height="2" fill="#0000cd"/></g><g shape-rendering="crispEdges"><rect x="1683" y="27" width="2" height="1" fill="#000"/><rect x="1683" y="60" width="2" height="1" fill="#000"/><rect x="1683" y="93" width="2" height="1" fill="#000"/><rect x="1683" y="126" width="2" height="1" fill="#000"/><rect x="1683" y="159" width="2" height="1" fill="#000"/><rect x="1683" y="192" width="2" height="1" fill="#000"/><rect x="1683" y="225" width="2" height="1" fill="#000"/><rect x="1683" y="258" width="2" height="1" fill="#000"/><rect x="1683" y="291" width="2" height="1" fill="#000"/><rect x="1683" y="324" width="2" height="1" fill="#000"/><rect x="1683" y="357" width="2" height="1" fill="#000"/><rect x="1683" y="390" width="2" height="1" fill="#000"/><rect x="1683" y="423" width="2" height="1" fill="#000"/><rect x="1683" y="456" width="2" height="1" fill="#000"/><rect x="1683" y="489" width="2" height="1" fill="#000"/><rect x="1683" y="522" width="2" height="1" fill="#000"/><rect x="1683" y="555" width="2" height="1" fill="#000"/><rect x="1683" y="588" width="2" height="1" fill="#000"/></g><text transform="translate(1688,31) scale(0.935,1)" font-size="10" fill="#000" stroke="#000" stroke-width="0.18" text-anchor="start" >1.16020</text><text transform="translate(1688,64) scale(0.935,1)" font-size="10" fill="#000" stroke="#000" stroke-width="0.18" text-anchor="start" >1.15580</text><text transform="translate(1688,97) scale(0.935,1)" font-size="10" fill="#000" stroke="#000" stroke-width="0.18" text-anchor="start" >1.15150</text><text transform="translate(1688,130) scale(0.935,1)" font-size="10" fill="#000" stroke="#000" stroke-width="0.18" text-anchor="start" >1.14720</text><text transform="translate(1688,163) scale(0.935,1)" font-size="10" fill="#000" stroke="#000" stroke-width="0.18" text-anchor="start" >1.14280</text><text transform="translate(1688,196) scale(0.935,1)" font-size="10" fill="#000" stroke="#000" stroke-width="0.18" text-anchor="start" >1.13850</text><text transform="translate(1688,229) scale(0.935,1)" font-size="10" fill="#000" stroke="#000" stroke-width="0.18" text-anchor="start" >1.13410</text><text transform="translate(1688,262) scale(0.935,1)" font-size="10" fill="#000" stroke="#000" stroke-width="0.18" text-anchor="start" >1.12980</text><text transform="translate(1688,295) scale(0.935,1)" font-size="10" fill="#000" stroke="#000" stroke-width="0.18" text-anchor="start" >1.12540</text><text transform="translate(1688,328) scale(0.935,1)" font-size="10" fill="#000" stroke="#000" stroke-width="0.18" text-anchor="start" >1.12110</text><text transform="translate(1688,361) scale(0.935,1)" font-size="10" fill="#000" stroke="#000" stroke-width="0.18" text-anchor="start" >1.11670</text><text transform="translate(1688,394) scale(0.935,1)" font-size="10" fill="#000" stroke="#000" stroke-width="0.18" text-anchor="start" >1.11240</text><text transform="translate(1688,427) scale(0.935,1)" font-size="10" fill="#000" stroke="#000" stroke-width="0.18" text-anchor="start" >1.10800</text><text transform="translate(1688,460) scale(0.935,1)" font-size="10" fill="#000" stroke="#000" stroke-width="0.18" text-anchor="start" >1.10370</text><text transform="translate(1688,493) scale(0.935,1)" font-size="10" fill="#000" stroke="#000" stroke-width="0.18" text-anchor="start" >1.09930</text><text transform="translate(1688,526) scale(0.935,1)" font-size="10" fill="#000" stroke="#000" stroke-width="0.18" text-anchor="start" >1.09500</text><text transform="translate(1688,559) scale(0.935,1)" font-size="10" fill="#000" stroke="#000" stroke-width="0.18" text-anchor="start" >1.09070</text><text transform="translate(1688,592) scale(0.935,1)" font-size="10" fill="#000" stroke="#000" stroke-width="0.18" text-anchor="start" >1.08630</text><rect x="1684" y="261" width="41" height="11" fill="#ff0000"/><text transform="translate(1688,270) scale(0.935,1)" font-size="10" fill="#fff" stroke="#fff" stroke-width="0.18" text-anchor="start" >1.12859</text><rect x="1684" y="325" width="41" height="11" fill="#ff0000"/><text transform="translate(1688,334) scale(0.935,1)" font-size="10" fill="#fff" stroke="#fff" stroke-width="0.18" text-anchor="start" >1.12018</text><rect x="1684" y="336" width="41" height="11" fill="#000000"/><text transform="translate(1688,345) scale(0.935,1)" font-size="10" fill="#fff" stroke="#fff" stroke-width="0.18" text-anchor="start" >1.11900</text><rect x="1684" y="402" width="41" height="11" fill="#00ff00"/><text transform="translate(1688,411) scale(0.935,1)" font-size="10" fill="#fff" stroke="#fff" stroke-width="0.18" text-anchor="start" >1.11009</text><rect x="1684" y="478" width="41" height="11" fill="#0000cd"/><text transform="translate(1688,487) scale(0.935,1)" font-size="10" fill="#fff" stroke="#fff" stroke-width="0.18" text-anchor="start" >1.10008</text><rect x="1684" y="569" width="41" height="11" fill="#0000cd"/><text transform="translate(1688,578) scale(0.935,1)" font-size="10" fill="#fff" stroke="#fff" stroke-width="0.18" text-anchor="start" >1.08800</text><text transform="translate(1686,604) scale(0.935,1)" font-size="10" fill="#000" stroke="#000" stroke-width="0.18" text-anchor="start" >100</text><text transform="translate(1686,630) scale(0.935,1)" font-size="10" fill="#000" stroke="#000" stroke-width="0.18" text-anchor="start" >70</text><text transform="translate(1686,670) scale(0.935,1)" font-size="10" fill="#000" stroke="#000" stroke-width="0.18" text-anchor="start" >30</text><text transform="translate(1686,694) scale(0.935,1)" font-size="10" fill="#000" stroke="#000" stroke-width="0.18" text-anchor="start" >0</text><text transform="translate(1686,710) scale(0.935,1)" font-size="10" fill="#000" stroke="#000" stroke-width="0.18" text-anchor="start" >0.00463</text><text transform="translate(1686,752) scale(0.935,1)" font-size="10" fill="#000" stroke="#000" stroke-width="0.18" text-anchor="start" >0.00</text><text transform="translate(1686,800) scale(0.935,1)" font-size="10" fill="#000" stroke="#000" stroke-width="0.18" text-anchor="start" >-0.005299</text><g shape-rendering="crispEdges"><rect x="1683" y="748" width="2" height="1" fill="#000"/><rect x="1683" y="595" width="2" height="1" fill="#000"/><rect x="1683" y="696" width="2" height="1" fill="#000"/><rect x="1683" y="701" width="2" height="1" fill="#000"/><rect x="1683" y="801" width="2" height="1" fill="#000"/></g><g shape-rendering="crispEdges"><rect x="2" y="803" width="1" height="3" fill="#000"/><rect x="66" y="803" width="1" height="3" fill="#000"/><rect x="130" y="803" width="1" height="3" fill="#000"/><rect x="194" y="803" width="1" height="3" fill="#000"/><rect x="258" y="803" width="1" height="3" fill="#000"/><rect x="322" y="803" width="1" height="3" fill="#000"/><rect x="386" y="803" width="1" height="3" fill="#000"/><rect x="450" y="803" width="1" height="3" fill="#000"/><rect x="514" y="803" width="1" height="3" fill="#000"/><rect x="578" y="803" width="1" height="3" fill="#000"/><rect x="642" y="803" width="1" height="3" fill="#000"/><rect x="706" y="803" width="1" height="3" fill="#000"/><rect x="770" y="803" width="1" height="3" fill="#000"/><rect x="834" y="803" width="1" height="3" fill="#000"/><rect x="898" y="803" width="1" height="3" fill="#000"/><rect x="962" y="803" width="1" height="3" fill="#000"/><rect x="1026" y="803" width="1" height="3" fill="#000"/><rect x="1090" y="803" width="1" height="3" fill="#000"/><rect x="1154" y="803" width="1" height="3" fill="#000"/><rect x="1218" y="803" width="1" height="3" fill="#000"/><rect x="1282" y="803" width="1" height="3" fill="#000"/></g><text transform="translate(1,815) scale(0.935,1)" font-size="10" fill="#000" stroke="#000" stroke-width="0.18" text-anchor="start" >5 Dec 2018</text><text transform="translate(65,815) scale(0.935,1)" font-size="10" fill="#000" stroke="#000" stroke-width="0.18" text-anchor="start" >24 Dec 2018</text><text transform="translate(129,815) scale(0.935,1)" font-size="10" fill="#000" stroke="#000" stroke-width="0.18" text-anchor="start" >11 Jan 2019</text><text transform="translate(193,815) scale(0.935,1)" font-size="10" fill="#000" stroke="#000" stroke-width="0.18" text-anchor="start" >30 Jan 2019</text><text transform="translate(257,815) scale(0.935,1)" font-size="10" fill="#000" stroke="#000" stroke-width="0.18" text-anchor="start" >18 Feb 2019</text><text transform="translate(321,815) scale(0.935,1)" font-size="10" fill="#000" stroke="#000" stroke-width="0.18" text-anchor="start" >8 Mar 2019</text><text transform="translate(385,815) scale(0.935,1)" font-size="10" fill="#000" stroke="#000" stroke-width="0.18" text-anchor="start" >27 Mar 2019</text><text transform="translate(449,815) scale(0.935,1)" font-size="10" fill="#000" stroke="#000" stroke-width="0.18" text-anchor="start" >15 Apr 2019</text><text transform="translate(513,815) scale(0.935,1)" font-size="10" fill="#000" stroke="#000" stroke-width="0.18" text-anchor="start" >3 May 2019</text><text transform="translate(577,815) scale(0.935,1)" font-size="10" fill="#000" stroke="#000" stroke-width="0.18" text-anchor="start" >22 May 2019</text><text transform="translate(641,815) scale(0.935,1)" font-size="10" fill="#000" stroke="#000" stroke-width="0.18" text-anchor="start" >10 Jun 2019</text><text transform="translate(705,815) scale(0.935,1)" font-size="10" fill="#000" stroke="#000" stroke-width="0.18" text-anchor="start" >28 Jun 2019</text><text transform="translate(769,815) scale(0.935,1)" font-size="10" fill="#000" stroke="#000" stroke-width="0.18" text-anchor="start" >17 Jul 2019</text><text transform="translate(833,815) scale(0.935,1)" font-size="10" fill="#000" stroke="#000" stroke-width="0.18" text-anchor="start" >5 Aug 2019</text><text transform="translate(897,815) scale(0.935,1)" font-size="10" fill="#000" stroke="#000" stroke-width="0.18" text-anchor="start" >23 Aug 2019</text><text transform="translate(961,815) scale(0.935,1)" font-size="10" fill="#000" stroke="#000" stroke-width="0.18" text-anchor="start" >11 Sep 2019</text><text transform="translate(1025,815) scale(0.935,1)" font-size="10" fill="#000" stroke="#000" stroke-width="0.18" text-anchor="start" >30 Sep 2019</text><text transform="translate(1089,815) scale(0.935,1)" font-size="10" fill="#000" stroke="#000" stroke-width="0.18" text-anchor="start" >18 Oct 2019</text><text transform="translate(1153,815) scale(0.935,1)" font-size="10" fill="#000" stroke="#000" stroke-width="0.18" text-anchor="start" >6 Nov 2019</text><text transform="translate(1217,815) scale(0.935,1)" font-size="10" fill="#000" stroke="#000" stroke-width="0.18" text-anchor="start" >25 Nov 2019</text><text transform="translate(1281,815) scale(0.935,1)" font-size="10" fill="#000" stroke="#000" stroke-width="0.18" text-anchor="start" >13 Dec 2019</text><path d="M5,31 L12,31 L8.5,35 Z" fill="#000"/><text transform="translate(17,36) scale(0.935,1)" font-size="10" fill="#000" stroke="#000" stroke-width="0.18" text-anchor="start" >EURUSD,Daily</text><text transform="translate(87,36) scale(0.95,1)" font-size="10" fill="#000" stroke="#000" stroke-width="0.18" text-anchor="start" >1.11768 1.11921 1.11756 1.11900</text><text transform="translate(6,606) scale(0.935,1)" font-size="10" fill="#000" stroke="#000" stroke-width="0.18" text-anchor="start" >RSI(14) 67.1345</text><text transform="translate(6,712) scale(0.935,1)" font-size="10" fill="#000" stroke="#000" stroke-width="0.18" text-anchor="start" >MACD(12,26,9) 0.002239 0.001344</text><path d="M1340,25 L1349,25 L1344.5,30 Z" fill="#c0c0c0"/></svg><svg style="position:absolute;left:0;top:822px" width="1725" height="22" shape-rendering="crispEdges"><rect x="0" y="0" width="1725" height="1" fill="#ffffff"/><rect x="0" y="1" width="1725" height="1" fill="#e3e3e3"/><rect x="0" y="2" width="1725" height="1" fill="#ffffff"/><rect x="0" y="3" width="1725" height="1" fill="#000"/><rect x="3" y="3" width="104" height="19" fill="#000"/><rect x="4" y="2" width="102" height="19" fill="#fff"/><rect x="207" y="6" width="1" height="13" fill="#707070"/><rect x="311" y="6" width="1" height="13" fill="#707070"/><rect x="415" y="6" width="1" height="13" fill="#707070"/><rect x="519" y="6" width="1" height="13" fill="#707070"/><path d="M1701,8 L1701,15 L1697.5,11.5 Z" fill="#a0a0a0"/><path d="M1717,8 L1717,15 L1720.5,11.5 Z" fill="#a0a0a0"/></svg><svg style="position:absolute;left:0;top:822px" width="1725" height="22"><text transform="translate(15,17) scale(0.93,1)" font-size="12.5" fill="#000">EURUSD,Daily</text><text transform="translate(117,17) scale(0.93,1)" font-size="12.5" fill="#6d6d80">USDCHF,Daily</text><text transform="translate(218,17) scale(0.93,1)" font-size="12.5" fill="#6d6d80">AUDUSD,Daily</text><text transform="translate(322,17) scale(0.93,1)" font-size="12.5" fill="#6d6d80">USDCAD,Daily</text><text transform="translate(425,17) scale(0.93,1)" font-size="12.5" fill="#6d6d80">USDCNH,Daily</text></svg></body></html>
